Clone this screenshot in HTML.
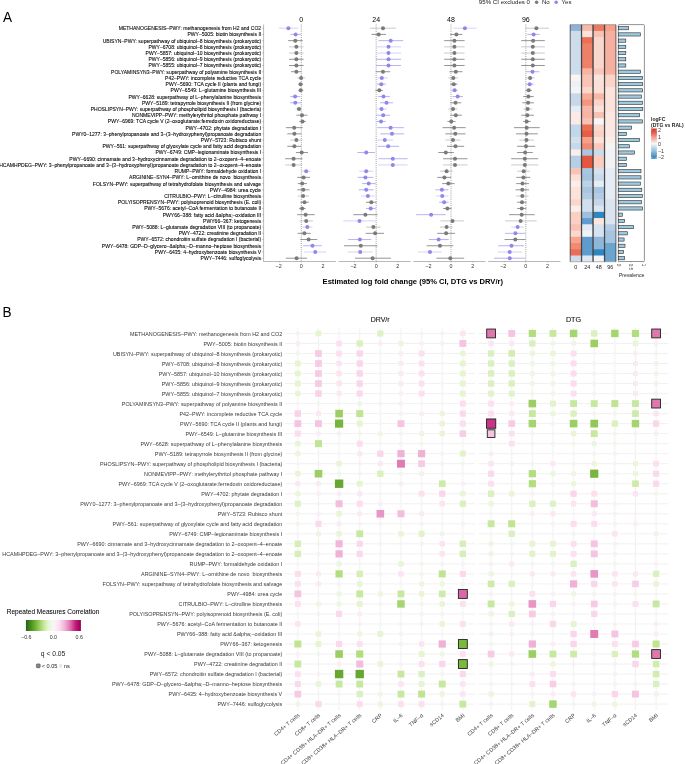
<!DOCTYPE html><html><head><meta charset="utf-8"><style>html,body{margin:0;padding:0;background:#fff;}svg{display:block;will-change:transform}text{font-family:"Liberation Sans", sans-serif;white-space:pre}</style></head><body>
<svg width="685" height="764" viewBox="0 0 685 764">
<rect width="685" height="764" fill="#fff"/>
<text transform="translate(3,22.2) scale(1,1.09)" font-size="13.6" fill="#000">A</text>
<text transform="translate(2.6,317) scale(1,1.05)" font-size="13.6" fill="#000">B</text>
<g font-size="5.05" fill="#000" stroke="#000" stroke-width="0.08" text-anchor="end">
<text x="261.2" y="30.15">METHANOGENESIS–PWY: methanogenesis from H2 and CO2</text>
<text x="261.2" y="36.37">PWY–5005: biotin biosynthesis II</text>
<text x="261.2" y="42.58">UBISYN–PWY: superpathway of ubiquinol–8 biosynthesis (prokaryotic)</text>
<text x="261.2" y="48.80">PWY–6708: ubiquinol–8 biosynthesis (prokaryotic)</text>
<text x="261.2" y="55.01">PWY–5857: ubiquinol–10 biosynthesis (prokaryotic)</text>
<text x="261.2" y="61.23">PWY–5856: ubiquinol–9 biosynthesis (prokaryotic)</text>
<text x="261.2" y="67.45">PWY–5855: ubiquinol–7 biosynthesis (prokaryotic)</text>
<text x="261.2" y="73.66">POLYAMINSYN3–PWY: superpathway of polyamine biosynthesis II</text>
<text x="261.2" y="79.88">P42–PWY: incomplete reductive TCA cycle</text>
<text x="261.2" y="86.09">PWY–5690: TCA cycle II (plants and fungi)</text>
<text x="261.2" y="92.31">PWY–6549: L–glutamine biosynthesis III</text>
<text x="261.2" y="98.53">PWY–6628: superpathway of L–phenylalanine biosynthesis</text>
<text x="261.2" y="104.74">PWY–5189: tetrapyrrole biosynthesis II (from glycine)</text>
<text x="261.2" y="110.96">PHOSLIPSYN–PWY: superpathway of phospholipid biosynthesis I (bacteria)</text>
<text x="261.2" y="117.17">NONMEVIPP–PWY: methylerythritol phosphate pathway I</text>
<text x="261.2" y="123.39">PWY–6969: TCA cycle V (2–oxoglutarate:ferredoxin oxidoreductase)</text>
<text x="261.2" y="129.61">PWY–4702: phytate degradation I</text>
<text x="261.2" y="135.82">PWY0–1277: 3–phenylpropanoate and 3–(3–hydroxyphenyl)propanoate degradation</text>
<text x="261.2" y="142.04">PWY–5723: Rubisco shunt</text>
<text x="261.2" y="148.25">PWY–561: superpathway of glyoxylate cycle and fatty acid degradation</text>
<text x="261.2" y="154.47">PWY–6749: CMP–legionaminate biosynthesis I</text>
<text x="261.2" y="160.69">PWY–6690: cinnamate and 3–hydroxycinnamate degradation to 2–oxopent–4–enoate</text>
<text x="261.2" y="166.90">HCAMHPDEG–PWY: 3–phenylpropanoate and 3–(3–hydroxyphenyl)propanoate degradation to 2–oxopent–4–enoate</text>
<text x="261.2" y="173.12">RUMP–PWY: formaldehyde oxidation I</text>
<text x="261.2" y="179.33">ARGININE–SYN4–PWY: L–ornithine de novo  biosynthesis</text>
<text x="261.2" y="185.55">FOLSYN–PWY: superpathway of tetrahydrofolate biosynthesis and salvage</text>
<text x="261.2" y="191.77">PWY–4984: urea cycle</text>
<text x="261.2" y="197.98">CITRULBIO–PWY: L–citrulline biosynthesis</text>
<text x="261.2" y="204.20">POLYISOPRENSYN–PWY: polyisoprenoid biosynthesis (E. coli)</text>
<text x="261.2" y="210.41">PWY–5676: acetyl–CoA fermentation to butanoate II</text>
<text x="261.2" y="216.63">PWY66–388: fatty acid &amp;alpha;–oxidation III</text>
<text x="261.2" y="222.85">PWY66–367: ketogenesis</text>
<text x="261.2" y="229.06">PWY–5088: L–glutamate degradation VIII (to propanoate)</text>
<text x="261.2" y="235.28">PWY–4722: creatinine degradation II</text>
<text x="261.2" y="241.49">PWY–6572: chondroitin sulfate degradation I (bacterial)</text>
<text x="261.2" y="247.71">PWY–6478: GDP–D–glycero–&amp;alpha;–D–manno–heptose biosynthesis</text>
<text x="261.2" y="253.93">PWY–6435: 4–hydroxybenzoate biosynthesis V</text>
<text x="261.2" y="260.14">PWY–7446: sulfoglycolysis</text>
</g>
<g stroke="#8c8c8c" stroke-width="0.6">
<line x1="263.6" y1="24.6" x2="263.6" y2="261.8"/>
<line x1="262.4" y1="28.20" x2="263.6" y2="28.20"/>
<line x1="262.4" y1="34.42" x2="263.6" y2="34.42"/>
<line x1="262.4" y1="40.63" x2="263.6" y2="40.63"/>
<line x1="262.4" y1="46.85" x2="263.6" y2="46.85"/>
<line x1="262.4" y1="53.06" x2="263.6" y2="53.06"/>
<line x1="262.4" y1="59.28" x2="263.6" y2="59.28"/>
<line x1="262.4" y1="65.50" x2="263.6" y2="65.50"/>
<line x1="262.4" y1="71.71" x2="263.6" y2="71.71"/>
<line x1="262.4" y1="77.93" x2="263.6" y2="77.93"/>
<line x1="262.4" y1="84.14" x2="263.6" y2="84.14"/>
<line x1="262.4" y1="90.36" x2="263.6" y2="90.36"/>
<line x1="262.4" y1="96.58" x2="263.6" y2="96.58"/>
<line x1="262.4" y1="102.79" x2="263.6" y2="102.79"/>
<line x1="262.4" y1="109.01" x2="263.6" y2="109.01"/>
<line x1="262.4" y1="115.22" x2="263.6" y2="115.22"/>
<line x1="262.4" y1="121.44" x2="263.6" y2="121.44"/>
<line x1="262.4" y1="127.66" x2="263.6" y2="127.66"/>
<line x1="262.4" y1="133.87" x2="263.6" y2="133.87"/>
<line x1="262.4" y1="140.09" x2="263.6" y2="140.09"/>
<line x1="262.4" y1="146.30" x2="263.6" y2="146.30"/>
<line x1="262.4" y1="152.52" x2="263.6" y2="152.52"/>
<line x1="262.4" y1="158.74" x2="263.6" y2="158.74"/>
<line x1="262.4" y1="164.95" x2="263.6" y2="164.95"/>
<line x1="262.4" y1="171.17" x2="263.6" y2="171.17"/>
<line x1="262.4" y1="177.38" x2="263.6" y2="177.38"/>
<line x1="262.4" y1="183.60" x2="263.6" y2="183.60"/>
<line x1="262.4" y1="189.82" x2="263.6" y2="189.82"/>
<line x1="262.4" y1="196.03" x2="263.6" y2="196.03"/>
<line x1="262.4" y1="202.25" x2="263.6" y2="202.25"/>
<line x1="262.4" y1="208.46" x2="263.6" y2="208.46"/>
<line x1="262.4" y1="214.68" x2="263.6" y2="214.68"/>
<line x1="262.4" y1="220.90" x2="263.6" y2="220.90"/>
<line x1="262.4" y1="227.11" x2="263.6" y2="227.11"/>
<line x1="262.4" y1="233.33" x2="263.6" y2="233.33"/>
<line x1="262.4" y1="239.54" x2="263.6" y2="239.54"/>
<line x1="262.4" y1="245.76" x2="263.6" y2="245.76"/>
<line x1="262.4" y1="251.98" x2="263.6" y2="251.98"/>
<line x1="262.4" y1="258.19" x2="263.6" y2="258.19"/>
</g>
<line x1="263.60" y1="261.50" x2="335.90" y2="261.50" stroke="#8c8c8c" stroke-width="0.6"/>
<line x1="279.60" y1="261.50" x2="279.60" y2="262.60" stroke="#8c8c8c" stroke-width="0.5"/>
<text x="278.70" y="267.70" font-size="5.4" fill="#333" text-anchor="middle">−2</text>
<line x1="301.30" y1="261.50" x2="301.30" y2="262.60" stroke="#8c8c8c" stroke-width="0.5"/>
<text x="301.30" y="267.70" font-size="5.4" fill="#333" text-anchor="middle">0</text>
<line x1="323.00" y1="261.50" x2="323.00" y2="262.60" stroke="#8c8c8c" stroke-width="0.5"/>
<text x="323.00" y="267.70" font-size="5.4" fill="#333" text-anchor="middle">2</text>
<line x1="301.30" y1="24.60" x2="301.30" y2="261.50" stroke="#3a3a3a" stroke-width="0.6" stroke-dasharray="0.8 1.3"/>
<text x="301.30" y="21.7" font-size="7.0" fill="#000" text-anchor="middle">0</text>
<line x1="278.90" y1="28.20" x2="298.10" y2="28.20" stroke="#cbc6f5" stroke-width="0.8"/>
<circle cx="288.40" cy="28.20" r="2.0" fill="#8f87e9"/>
<line x1="290.60" y1="34.42" x2="300.80" y2="34.42" stroke="#a69ef0" stroke-width="0.8"/>
<circle cx="295.60" cy="34.42" r="2.0" fill="#8f87e9"/>
<line x1="288.10" y1="40.63" x2="302.80" y2="40.63" stroke="#7a7a7a" stroke-width="0.8"/>
<circle cx="295.30" cy="40.63" r="2.0" fill="#7a7a7a"/>
<line x1="289.00" y1="46.85" x2="303.60" y2="46.85" stroke="#bdbdbd" stroke-width="0.8"/>
<circle cx="296.40" cy="46.85" r="2.0" fill="#7a7a7a"/>
<line x1="289.00" y1="53.06" x2="303.60" y2="53.06" stroke="#bdbdbd" stroke-width="0.8"/>
<circle cx="296.40" cy="53.06" r="2.0" fill="#7a7a7a"/>
<line x1="289.00" y1="59.28" x2="303.60" y2="59.28" stroke="#7a7a7a" stroke-width="0.8"/>
<circle cx="296.40" cy="59.28" r="2.0" fill="#7a7a7a"/>
<line x1="289.00" y1="65.50" x2="303.60" y2="65.50" stroke="#7a7a7a" stroke-width="0.8"/>
<circle cx="296.40" cy="65.50" r="2.0" fill="#7a7a7a"/>
<line x1="291.10" y1="71.71" x2="301.40" y2="71.71" stroke="#7a7a7a" stroke-width="0.8"/>
<circle cx="296.40" cy="71.71" r="2.0" fill="#7a7a7a"/>
<line x1="297.30" y1="77.93" x2="305.30" y2="77.93" stroke="#bdbdbd" stroke-width="0.8"/>
<circle cx="301.10" cy="77.93" r="2.0" fill="#7a7a7a"/>
<line x1="299.00" y1="84.14" x2="303.00" y2="84.14" stroke="#7a7a7a" stroke-width="0.8"/>
<circle cx="300.50" cy="84.14" r="2.0" fill="#7a7a7a"/>
<line x1="298.40" y1="90.36" x2="303.30" y2="90.36" stroke="#7a7a7a" stroke-width="0.8"/>
<circle cx="300.70" cy="90.36" r="2.0" fill="#7a7a7a"/>
<line x1="290.30" y1="96.58" x2="300.00" y2="96.58" stroke="#a69ef0" stroke-width="0.8"/>
<circle cx="295.10" cy="96.58" r="2.0" fill="#8f87e9"/>
<line x1="290.00" y1="102.79" x2="301.00" y2="102.79" stroke="#a69ef0" stroke-width="0.8"/>
<circle cx="295.30" cy="102.79" r="2.0" fill="#8f87e9"/>
<line x1="295.60" y1="109.01" x2="301.40" y2="109.01" stroke="#bdbdbd" stroke-width="0.8"/>
<circle cx="299.00" cy="109.01" r="2.0" fill="#7a7a7a"/>
<line x1="296.40" y1="115.22" x2="307.50" y2="115.22" stroke="#7a7a7a" stroke-width="0.8"/>
<circle cx="302.00" cy="115.22" r="2.0" fill="#7a7a7a"/>
<line x1="299.20" y1="121.44" x2="305.80" y2="121.44" stroke="#7a7a7a" stroke-width="0.8"/>
<circle cx="302.50" cy="121.44" r="2.0" fill="#7a7a7a"/>
<line x1="285.90" y1="127.66" x2="302.80" y2="127.66" stroke="#7a7a7a" stroke-width="0.8"/>
<circle cx="294.20" cy="127.66" r="2.0" fill="#7a7a7a"/>
<line x1="287.30" y1="133.87" x2="301.40" y2="133.87" stroke="#7a7a7a" stroke-width="0.8"/>
<circle cx="294.40" cy="133.87" r="2.0" fill="#7a7a7a"/>
<line x1="290.00" y1="140.09" x2="302.80" y2="140.09" stroke="#bdbdbd" stroke-width="0.8"/>
<circle cx="296.40" cy="140.09" r="2.0" fill="#7a7a7a"/>
<line x1="287.30" y1="146.30" x2="301.40" y2="146.30" stroke="#7a7a7a" stroke-width="0.8"/>
<circle cx="294.40" cy="146.30" r="2.0" fill="#7a7a7a"/>
<line x1="295.90" y1="152.52" x2="308.00" y2="152.52" stroke="#7a7a7a" stroke-width="0.8"/>
<circle cx="301.70" cy="152.52" r="2.0" fill="#7a7a7a"/>
<line x1="285.10" y1="158.74" x2="302.50" y2="158.74" stroke="#7a7a7a" stroke-width="0.8"/>
<circle cx="293.60" cy="158.74" r="2.0" fill="#7a7a7a"/>
<line x1="285.10" y1="164.95" x2="302.20" y2="164.95" stroke="#bdbdbd" stroke-width="0.8"/>
<circle cx="293.60" cy="164.95" r="2.0" fill="#7a7a7a"/>
<line x1="301.40" y1="171.17" x2="310.80" y2="171.17" stroke="#cbc6f5" stroke-width="0.8"/>
<circle cx="306.20" cy="171.17" r="2.0" fill="#8f87e9"/>
<line x1="297.30" y1="177.38" x2="310.00" y2="177.38" stroke="#7a7a7a" stroke-width="0.8"/>
<circle cx="303.60" cy="177.38" r="2.0" fill="#7a7a7a"/>
<line x1="297.70" y1="183.60" x2="307.00" y2="183.60" stroke="#7a7a7a" stroke-width="0.8"/>
<circle cx="302.20" cy="183.60" r="2.0" fill="#7a7a7a"/>
<line x1="297.30" y1="189.82" x2="309.50" y2="189.82" stroke="#7a7a7a" stroke-width="0.8"/>
<circle cx="303.30" cy="189.82" r="2.0" fill="#7a7a7a"/>
<line x1="297.70" y1="196.03" x2="309.20" y2="196.03" stroke="#bdbdbd" stroke-width="0.8"/>
<circle cx="303.10" cy="196.03" r="2.0" fill="#7a7a7a"/>
<line x1="300.30" y1="202.25" x2="308.80" y2="202.25" stroke="#7a7a7a" stroke-width="0.8"/>
<circle cx="304.50" cy="202.25" r="2.0" fill="#7a7a7a"/>
<line x1="299.20" y1="208.46" x2="305.60" y2="208.46" stroke="#7a7a7a" stroke-width="0.8"/>
<circle cx="302.20" cy="208.46" r="2.0" fill="#7a7a7a"/>
<line x1="297.00" y1="214.68" x2="314.70" y2="214.68" stroke="#7a7a7a" stroke-width="0.8"/>
<circle cx="305.60" cy="214.68" r="2.0" fill="#7a7a7a"/>
<line x1="299.50" y1="220.90" x2="313.00" y2="220.90" stroke="#bdbdbd" stroke-width="0.8"/>
<circle cx="306.20" cy="220.90" r="2.0" fill="#7a7a7a"/>
<line x1="302.20" y1="227.11" x2="312.50" y2="227.11" stroke="#cbc6f5" stroke-width="0.8"/>
<circle cx="307.30" cy="227.11" r="2.0" fill="#8f87e9"/>
<line x1="297.50" y1="233.33" x2="310.80" y2="233.33" stroke="#7a7a7a" stroke-width="0.8"/>
<circle cx="304.40" cy="233.33" r="2.0" fill="#7a7a7a"/>
<line x1="300.30" y1="239.54" x2="317.20" y2="239.54" stroke="#7a7a7a" stroke-width="0.8"/>
<circle cx="308.60" cy="239.54" r="2.0" fill="#7a7a7a"/>
<line x1="303.10" y1="245.76" x2="322.00" y2="245.76" stroke="#a69ef0" stroke-width="0.8"/>
<circle cx="312.50" cy="245.76" r="2.0" fill="#8f87e9"/>
<line x1="304.20" y1="251.98" x2="326.20" y2="251.98" stroke="#cbc6f5" stroke-width="0.8"/>
<circle cx="315.30" cy="251.98" r="2.0" fill="#8f87e9"/>
<line x1="285.90" y1="258.19" x2="307.00" y2="258.19" stroke="#7a7a7a" stroke-width="0.8"/>
<circle cx="296.60" cy="258.19" r="2.0" fill="#7a7a7a"/>
<line x1="338.45" y1="261.50" x2="410.75" y2="261.50" stroke="#8c8c8c" stroke-width="0.6"/>
<line x1="354.45" y1="261.50" x2="354.45" y2="262.60" stroke="#8c8c8c" stroke-width="0.5"/>
<text x="353.55" y="267.70" font-size="5.4" fill="#333" text-anchor="middle">−2</text>
<line x1="376.15" y1="261.50" x2="376.15" y2="262.60" stroke="#8c8c8c" stroke-width="0.5"/>
<text x="376.15" y="267.70" font-size="5.4" fill="#333" text-anchor="middle">0</text>
<line x1="397.85" y1="261.50" x2="397.85" y2="262.60" stroke="#8c8c8c" stroke-width="0.5"/>
<text x="397.85" y="267.70" font-size="5.4" fill="#333" text-anchor="middle">2</text>
<line x1="376.15" y1="24.60" x2="376.15" y2="261.50" stroke="#3a3a3a" stroke-width="0.6" stroke-dasharray="0.8 1.3"/>
<text x="376.15" y="21.7" font-size="7.0" fill="#000" text-anchor="middle">24</text>
<line x1="369.90" y1="28.20" x2="395.90" y2="28.20" stroke="#bdbdbd" stroke-width="0.8"/>
<circle cx="383.00" cy="28.20" r="2.0" fill="#7a7a7a"/>
<line x1="371.50" y1="34.42" x2="386.00" y2="34.42" stroke="#7a7a7a" stroke-width="0.8"/>
<circle cx="378.70" cy="34.42" r="2.0" fill="#7a7a7a"/>
<line x1="378.50" y1="40.63" x2="403.10" y2="40.63" stroke="#a69ef0" stroke-width="0.8"/>
<circle cx="390.70" cy="40.63" r="2.0" fill="#8f87e9"/>
<line x1="376.50" y1="46.85" x2="401.00" y2="46.85" stroke="#cbc6f5" stroke-width="0.8"/>
<circle cx="388.50" cy="46.85" r="2.0" fill="#8f87e9"/>
<line x1="376.50" y1="53.06" x2="401.00" y2="53.06" stroke="#cbc6f5" stroke-width="0.8"/>
<circle cx="388.50" cy="53.06" r="2.0" fill="#8f87e9"/>
<line x1="376.00" y1="59.28" x2="401.00" y2="59.28" stroke="#a69ef0" stroke-width="0.8"/>
<circle cx="388.50" cy="59.28" r="2.0" fill="#8f87e9"/>
<line x1="376.00" y1="65.50" x2="401.00" y2="65.50" stroke="#a69ef0" stroke-width="0.8"/>
<circle cx="388.50" cy="65.50" r="2.0" fill="#8f87e9"/>
<line x1="375.70" y1="71.71" x2="390.20" y2="71.71" stroke="#7a7a7a" stroke-width="0.8"/>
<circle cx="383.00" cy="71.71" r="2.0" fill="#7a7a7a"/>
<line x1="376.50" y1="77.93" x2="387.60" y2="77.93" stroke="#cbc6f5" stroke-width="0.8"/>
<circle cx="381.80" cy="77.93" r="2.0" fill="#8f87e9"/>
<line x1="377.00" y1="84.14" x2="386.00" y2="84.14" stroke="#a69ef0" stroke-width="0.8"/>
<circle cx="381.30" cy="84.14" r="2.0" fill="#8f87e9"/>
<line x1="375.40" y1="90.36" x2="383.00" y2="90.36" stroke="#7a7a7a" stroke-width="0.8"/>
<circle cx="379.30" cy="90.36" r="2.0" fill="#7a7a7a"/>
<line x1="378.00" y1="96.58" x2="389.80" y2="96.58" stroke="#a69ef0" stroke-width="0.8"/>
<circle cx="383.50" cy="96.58" r="2.0" fill="#8f87e9"/>
<line x1="380.20" y1="102.79" x2="393.20" y2="102.79" stroke="#a69ef0" stroke-width="0.8"/>
<circle cx="386.50" cy="102.79" r="2.0" fill="#8f87e9"/>
<line x1="376.50" y1="109.01" x2="386.80" y2="109.01" stroke="#cbc6f5" stroke-width="0.8"/>
<circle cx="381.50" cy="109.01" r="2.0" fill="#8f87e9"/>
<line x1="376.00" y1="115.22" x2="390.20" y2="115.22" stroke="#a69ef0" stroke-width="0.8"/>
<circle cx="383.20" cy="115.22" r="2.0" fill="#8f87e9"/>
<line x1="376.80" y1="121.44" x2="385.70" y2="121.44" stroke="#a69ef0" stroke-width="0.8"/>
<circle cx="381.00" cy="121.44" r="2.0" fill="#8f87e9"/>
<line x1="377.30" y1="127.66" x2="403.90" y2="127.66" stroke="#a69ef0" stroke-width="0.8"/>
<circle cx="390.60" cy="127.66" r="2.0" fill="#8f87e9"/>
<line x1="380.20" y1="133.87" x2="403.90" y2="133.87" stroke="#a69ef0" stroke-width="0.8"/>
<circle cx="392.00" cy="133.87" r="2.0" fill="#8f87e9"/>
<line x1="376.00" y1="140.09" x2="393.20" y2="140.09" stroke="#cbc6f5" stroke-width="0.8"/>
<circle cx="384.80" cy="140.09" r="2.0" fill="#8f87e9"/>
<line x1="377.60" y1="146.30" x2="399.00" y2="146.30" stroke="#a69ef0" stroke-width="0.8"/>
<circle cx="388.20" cy="146.30" r="2.0" fill="#8f87e9"/>
<line x1="357.30" y1="152.52" x2="375.00" y2="152.52" stroke="#a69ef0" stroke-width="0.8"/>
<circle cx="366.20" cy="152.52" r="2.0" fill="#8f87e9"/>
<line x1="378.50" y1="158.74" x2="407.60" y2="158.74" stroke="#a69ef0" stroke-width="0.8"/>
<circle cx="392.80" cy="158.74" r="2.0" fill="#8f87e9"/>
<line x1="378.50" y1="164.95" x2="407.60" y2="164.95" stroke="#cbc6f5" stroke-width="0.8"/>
<circle cx="392.80" cy="164.95" r="2.0" fill="#8f87e9"/>
<line x1="359.10" y1="171.17" x2="373.50" y2="171.17" stroke="#cbc6f5" stroke-width="0.8"/>
<circle cx="366.20" cy="171.17" r="2.0" fill="#8f87e9"/>
<line x1="357.60" y1="177.38" x2="373.50" y2="177.38" stroke="#a69ef0" stroke-width="0.8"/>
<circle cx="365.40" cy="177.38" r="2.0" fill="#8f87e9"/>
<line x1="362.10" y1="183.60" x2="375.70" y2="183.60" stroke="#a69ef0" stroke-width="0.8"/>
<circle cx="368.70" cy="183.60" r="2.0" fill="#8f87e9"/>
<line x1="358.80" y1="189.82" x2="373.70" y2="189.82" stroke="#a69ef0" stroke-width="0.8"/>
<circle cx="366.20" cy="189.82" r="2.0" fill="#8f87e9"/>
<line x1="361.00" y1="196.03" x2="374.80" y2="196.03" stroke="#cbc6f5" stroke-width="0.8"/>
<circle cx="367.90" cy="196.03" r="2.0" fill="#8f87e9"/>
<line x1="366.00" y1="202.25" x2="376.50" y2="202.25" stroke="#7a7a7a" stroke-width="0.8"/>
<circle cx="371.30" cy="202.25" r="2.0" fill="#7a7a7a"/>
<line x1="366.00" y1="208.46" x2="375.70" y2="208.46" stroke="#a69ef0" stroke-width="0.8"/>
<circle cx="370.70" cy="208.46" r="2.0" fill="#8f87e9"/>
<line x1="353.20" y1="214.68" x2="377.60" y2="214.68" stroke="#7a7a7a" stroke-width="0.8"/>
<circle cx="365.40" cy="214.68" r="2.0" fill="#7a7a7a"/>
<line x1="343.20" y1="220.90" x2="375.70" y2="220.90" stroke="#cbc6f5" stroke-width="0.8"/>
<circle cx="359.50" cy="220.90" r="2.0" fill="#8f87e9"/>
<line x1="366.00" y1="227.11" x2="380.60" y2="227.11" stroke="#bdbdbd" stroke-width="0.8"/>
<circle cx="373.40" cy="227.11" r="2.0" fill="#7a7a7a"/>
<line x1="365.70" y1="233.33" x2="384.00" y2="233.33" stroke="#7a7a7a" stroke-width="0.8"/>
<circle cx="375.10" cy="233.33" r="2.0" fill="#7a7a7a"/>
<line x1="348.20" y1="239.54" x2="371.30" y2="239.54" stroke="#a69ef0" stroke-width="0.8"/>
<circle cx="359.90" cy="239.54" r="2.0" fill="#8f87e9"/>
<line x1="344.00" y1="245.76" x2="377.60" y2="245.76" stroke="#7a7a7a" stroke-width="0.8"/>
<circle cx="360.80" cy="245.76" r="2.0" fill="#7a7a7a"/>
<line x1="347.70" y1="251.98" x2="372.60" y2="251.98" stroke="#cbc6f5" stroke-width="0.8"/>
<circle cx="360.20" cy="251.98" r="2.0" fill="#8f87e9"/>
<line x1="355.10" y1="258.19" x2="390.90" y2="258.19" stroke="#7a7a7a" stroke-width="0.8"/>
<circle cx="372.60" cy="258.19" r="2.0" fill="#7a7a7a"/>
<line x1="413.30" y1="261.50" x2="485.60" y2="261.50" stroke="#8c8c8c" stroke-width="0.6"/>
<line x1="429.30" y1="261.50" x2="429.30" y2="262.60" stroke="#8c8c8c" stroke-width="0.5"/>
<text x="428.40" y="267.70" font-size="5.4" fill="#333" text-anchor="middle">−2</text>
<line x1="451.00" y1="261.50" x2="451.00" y2="262.60" stroke="#8c8c8c" stroke-width="0.5"/>
<text x="451.00" y="267.70" font-size="5.4" fill="#333" text-anchor="middle">0</text>
<line x1="472.70" y1="261.50" x2="472.70" y2="262.60" stroke="#8c8c8c" stroke-width="0.5"/>
<text x="472.70" y="267.70" font-size="5.4" fill="#333" text-anchor="middle">2</text>
<line x1="451.00" y1="24.60" x2="451.00" y2="261.50" stroke="#3a3a3a" stroke-width="0.6" stroke-dasharray="0.8 1.3"/>
<text x="451.00" y="21.7" font-size="7.0" fill="#000" text-anchor="middle">48</text>
<line x1="453.30" y1="28.20" x2="476.80" y2="28.20" stroke="#cbc6f5" stroke-width="0.8"/>
<circle cx="464.90" cy="28.20" r="2.0" fill="#8f87e9"/>
<line x1="450.20" y1="34.42" x2="462.40" y2="34.42" stroke="#7a7a7a" stroke-width="0.8"/>
<circle cx="456.40" cy="34.42" r="2.0" fill="#7a7a7a"/>
<line x1="444.20" y1="40.63" x2="464.60" y2="40.63" stroke="#7a7a7a" stroke-width="0.8"/>
<circle cx="454.40" cy="40.63" r="2.0" fill="#7a7a7a"/>
<line x1="444.20" y1="46.85" x2="464.60" y2="46.85" stroke="#bdbdbd" stroke-width="0.8"/>
<circle cx="454.40" cy="46.85" r="2.0" fill="#7a7a7a"/>
<line x1="444.20" y1="53.06" x2="464.60" y2="53.06" stroke="#bdbdbd" stroke-width="0.8"/>
<circle cx="454.40" cy="53.06" r="2.0" fill="#7a7a7a"/>
<line x1="444.20" y1="59.28" x2="464.60" y2="59.28" stroke="#7a7a7a" stroke-width="0.8"/>
<circle cx="454.40" cy="59.28" r="2.0" fill="#7a7a7a"/>
<line x1="444.20" y1="65.50" x2="464.60" y2="65.50" stroke="#7a7a7a" stroke-width="0.8"/>
<circle cx="454.40" cy="65.50" r="2.0" fill="#7a7a7a"/>
<line x1="449.40" y1="71.71" x2="462.40" y2="71.71" stroke="#7a7a7a" stroke-width="0.8"/>
<circle cx="455.80" cy="71.71" r="2.0" fill="#7a7a7a"/>
<line x1="448.30" y1="77.93" x2="458.00" y2="77.93" stroke="#bdbdbd" stroke-width="0.8"/>
<circle cx="453.30" cy="77.93" r="2.0" fill="#7a7a7a"/>
<line x1="450.20" y1="84.14" x2="457.50" y2="84.14" stroke="#7a7a7a" stroke-width="0.8"/>
<circle cx="453.80" cy="84.14" r="2.0" fill="#7a7a7a"/>
<line x1="451.60" y1="90.36" x2="457.50" y2="90.36" stroke="#a69ef0" stroke-width="0.8"/>
<circle cx="454.60" cy="90.36" r="2.0" fill="#8f87e9"/>
<line x1="452.50" y1="96.58" x2="463.00" y2="96.58" stroke="#a69ef0" stroke-width="0.8"/>
<circle cx="457.70" cy="96.58" r="2.0" fill="#8f87e9"/>
<line x1="450.20" y1="102.79" x2="461.30" y2="102.79" stroke="#7a7a7a" stroke-width="0.8"/>
<circle cx="455.50" cy="102.79" r="2.0" fill="#7a7a7a"/>
<line x1="448.30" y1="109.01" x2="457.50" y2="109.01" stroke="#bdbdbd" stroke-width="0.8"/>
<circle cx="453.00" cy="109.01" r="2.0" fill="#7a7a7a"/>
<line x1="450.20" y1="115.22" x2="461.90" y2="115.22" stroke="#7a7a7a" stroke-width="0.8"/>
<circle cx="455.80" cy="115.22" r="2.0" fill="#7a7a7a"/>
<line x1="447.50" y1="121.44" x2="455.50" y2="121.44" stroke="#7a7a7a" stroke-width="0.8"/>
<circle cx="451.30" cy="121.44" r="2.0" fill="#7a7a7a"/>
<line x1="442.50" y1="127.66" x2="465.70" y2="127.66" stroke="#7a7a7a" stroke-width="0.8"/>
<circle cx="454.10" cy="127.66" r="2.0" fill="#7a7a7a"/>
<line x1="445.30" y1="133.87" x2="465.50" y2="133.87" stroke="#7a7a7a" stroke-width="0.8"/>
<circle cx="455.30" cy="133.87" r="2.0" fill="#7a7a7a"/>
<line x1="445.30" y1="140.09" x2="460.50" y2="140.09" stroke="#bdbdbd" stroke-width="0.8"/>
<circle cx="453.00" cy="140.09" r="2.0" fill="#7a7a7a"/>
<line x1="447.00" y1="146.30" x2="464.20" y2="146.30" stroke="#7a7a7a" stroke-width="0.8"/>
<circle cx="455.50" cy="146.30" r="2.0" fill="#7a7a7a"/>
<line x1="438.30" y1="152.52" x2="453.80" y2="152.52" stroke="#7a7a7a" stroke-width="0.8"/>
<circle cx="445.80" cy="152.52" r="2.0" fill="#7a7a7a"/>
<line x1="443.10" y1="158.74" x2="467.50" y2="158.74" stroke="#7a7a7a" stroke-width="0.8"/>
<circle cx="455.00" cy="158.74" r="2.0" fill="#7a7a7a"/>
<line x1="443.10" y1="164.95" x2="467.50" y2="164.95" stroke="#bdbdbd" stroke-width="0.8"/>
<circle cx="455.00" cy="164.95" r="2.0" fill="#7a7a7a"/>
<line x1="440.00" y1="171.17" x2="452.70" y2="171.17" stroke="#bdbdbd" stroke-width="0.8"/>
<circle cx="446.60" cy="171.17" r="2.0" fill="#7a7a7a"/>
<line x1="437.20" y1="177.38" x2="451.10" y2="177.38" stroke="#7a7a7a" stroke-width="0.8"/>
<circle cx="444.40" cy="177.38" r="2.0" fill="#7a7a7a"/>
<line x1="442.20" y1="183.60" x2="454.60" y2="183.60" stroke="#7a7a7a" stroke-width="0.8"/>
<circle cx="448.30" cy="183.60" r="2.0" fill="#7a7a7a"/>
<line x1="435.30" y1="189.82" x2="448.30" y2="189.82" stroke="#a69ef0" stroke-width="0.8"/>
<circle cx="441.90" cy="189.82" r="2.0" fill="#8f87e9"/>
<line x1="436.10" y1="196.03" x2="448.30" y2="196.03" stroke="#cbc6f5" stroke-width="0.8"/>
<circle cx="442.20" cy="196.03" r="2.0" fill="#8f87e9"/>
<line x1="439.10" y1="202.25" x2="448.60" y2="202.25" stroke="#a69ef0" stroke-width="0.8"/>
<circle cx="444.10" cy="202.25" r="2.0" fill="#8f87e9"/>
<line x1="443.10" y1="208.46" x2="451.60" y2="208.46" stroke="#7a7a7a" stroke-width="0.8"/>
<circle cx="447.40" cy="208.46" r="2.0" fill="#7a7a7a"/>
<line x1="416.10" y1="214.68" x2="445.70" y2="214.68" stroke="#a69ef0" stroke-width="0.8"/>
<circle cx="431.10" cy="214.68" r="2.0" fill="#8f87e9"/>
<line x1="440.50" y1="220.90" x2="464.20" y2="220.90" stroke="#bdbdbd" stroke-width="0.8"/>
<circle cx="452.50" cy="220.90" r="2.0" fill="#7a7a7a"/>
<line x1="440.00" y1="227.11" x2="452.70" y2="227.11" stroke="#bdbdbd" stroke-width="0.8"/>
<circle cx="446.60" cy="227.11" r="2.0" fill="#7a7a7a"/>
<line x1="437.20" y1="233.33" x2="455.00" y2="233.33" stroke="#7a7a7a" stroke-width="0.8"/>
<circle cx="446.10" cy="233.33" r="2.0" fill="#7a7a7a"/>
<line x1="428.90" y1="239.54" x2="448.70" y2="239.54" stroke="#a69ef0" stroke-width="0.8"/>
<circle cx="438.60" cy="239.54" r="2.0" fill="#8f87e9"/>
<line x1="426.60" y1="245.76" x2="453.30" y2="245.76" stroke="#7a7a7a" stroke-width="0.8"/>
<circle cx="440.00" cy="245.76" r="2.0" fill="#7a7a7a"/>
<line x1="418.00" y1="251.98" x2="442.00" y2="251.98" stroke="#cbc6f5" stroke-width="0.8"/>
<circle cx="430.00" cy="251.98" r="2.0" fill="#8f87e9"/>
<line x1="436.40" y1="258.19" x2="464.20" y2="258.19" stroke="#7a7a7a" stroke-width="0.8"/>
<circle cx="450.30" cy="258.19" r="2.0" fill="#7a7a7a"/>
<line x1="488.15" y1="261.50" x2="560.45" y2="261.50" stroke="#8c8c8c" stroke-width="0.6"/>
<line x1="504.15" y1="261.50" x2="504.15" y2="262.60" stroke="#8c8c8c" stroke-width="0.5"/>
<text x="503.25" y="267.70" font-size="5.4" fill="#333" text-anchor="middle">−2</text>
<line x1="525.85" y1="261.50" x2="525.85" y2="262.60" stroke="#8c8c8c" stroke-width="0.5"/>
<text x="525.85" y="267.70" font-size="5.4" fill="#333" text-anchor="middle">0</text>
<line x1="547.55" y1="261.50" x2="547.55" y2="262.60" stroke="#8c8c8c" stroke-width="0.5"/>
<text x="547.55" y="267.70" font-size="5.4" fill="#333" text-anchor="middle">2</text>
<line x1="525.85" y1="24.60" x2="525.85" y2="261.50" stroke="#3a3a3a" stroke-width="0.6" stroke-dasharray="0.8 1.3"/>
<text x="525.85" y="21.7" font-size="7.0" fill="#000" text-anchor="middle">96</text>
<line x1="525.10" y1="28.20" x2="548.90" y2="28.20" stroke="#bdbdbd" stroke-width="0.8"/>
<circle cx="536.40" cy="28.20" r="2.0" fill="#7a7a7a"/>
<line x1="527.30" y1="34.42" x2="539.70" y2="34.42" stroke="#a69ef0" stroke-width="0.8"/>
<circle cx="533.60" cy="34.42" r="2.0" fill="#8f87e9"/>
<line x1="521.20" y1="40.63" x2="544.80" y2="40.63" stroke="#7a7a7a" stroke-width="0.8"/>
<circle cx="533.10" cy="40.63" r="2.0" fill="#7a7a7a"/>
<line x1="521.20" y1="46.85" x2="544.80" y2="46.85" stroke="#bdbdbd" stroke-width="0.8"/>
<circle cx="532.80" cy="46.85" r="2.0" fill="#7a7a7a"/>
<line x1="521.20" y1="53.06" x2="544.80" y2="53.06" stroke="#bdbdbd" stroke-width="0.8"/>
<circle cx="532.80" cy="53.06" r="2.0" fill="#7a7a7a"/>
<line x1="521.20" y1="59.28" x2="544.80" y2="59.28" stroke="#7a7a7a" stroke-width="0.8"/>
<circle cx="532.80" cy="59.28" r="2.0" fill="#7a7a7a"/>
<line x1="521.20" y1="65.50" x2="544.80" y2="65.50" stroke="#7a7a7a" stroke-width="0.8"/>
<circle cx="532.80" cy="65.50" r="2.0" fill="#7a7a7a"/>
<line x1="526.00" y1="71.71" x2="539.30" y2="71.71" stroke="#a69ef0" stroke-width="0.8"/>
<circle cx="532.50" cy="71.71" r="2.0" fill="#8f87e9"/>
<line x1="525.60" y1="77.93" x2="534.80" y2="77.93" stroke="#bdbdbd" stroke-width="0.8"/>
<circle cx="530.10" cy="77.93" r="2.0" fill="#7a7a7a"/>
<line x1="526.00" y1="84.14" x2="533.70" y2="84.14" stroke="#a69ef0" stroke-width="0.8"/>
<circle cx="529.70" cy="84.14" r="2.0" fill="#8f87e9"/>
<line x1="525.60" y1="90.36" x2="531.90" y2="90.36" stroke="#7a7a7a" stroke-width="0.8"/>
<circle cx="528.70" cy="90.36" r="2.0" fill="#7a7a7a"/>
<line x1="523.10" y1="96.58" x2="533.70" y2="96.58" stroke="#7a7a7a" stroke-width="0.8"/>
<circle cx="528.40" cy="96.58" r="2.0" fill="#7a7a7a"/>
<line x1="522.30" y1="102.79" x2="533.90" y2="102.79" stroke="#7a7a7a" stroke-width="0.8"/>
<circle cx="528.10" cy="102.79" r="2.0" fill="#7a7a7a"/>
<line x1="523.40" y1="109.01" x2="532.30" y2="109.01" stroke="#bdbdbd" stroke-width="0.8"/>
<circle cx="527.60" cy="109.01" r="2.0" fill="#7a7a7a"/>
<line x1="521.20" y1="115.22" x2="533.90" y2="115.22" stroke="#7a7a7a" stroke-width="0.8"/>
<circle cx="527.30" cy="115.22" r="2.0" fill="#7a7a7a"/>
<line x1="523.10" y1="121.44" x2="530.80" y2="121.44" stroke="#7a7a7a" stroke-width="0.8"/>
<circle cx="526.70" cy="121.44" r="2.0" fill="#7a7a7a"/>
<line x1="514.00" y1="127.66" x2="539.80" y2="127.66" stroke="#7a7a7a" stroke-width="0.8"/>
<circle cx="526.70" cy="127.66" r="2.0" fill="#7a7a7a"/>
<line x1="516.00" y1="133.87" x2="537.80" y2="133.87" stroke="#7a7a7a" stroke-width="0.8"/>
<circle cx="526.50" cy="133.87" r="2.0" fill="#7a7a7a"/>
<line x1="519.30" y1="140.09" x2="533.90" y2="140.09" stroke="#bdbdbd" stroke-width="0.8"/>
<circle cx="526.50" cy="140.09" r="2.0" fill="#7a7a7a"/>
<line x1="517.10" y1="146.30" x2="535.10" y2="146.30" stroke="#7a7a7a" stroke-width="0.8"/>
<circle cx="526.00" cy="146.30" r="2.0" fill="#7a7a7a"/>
<line x1="517.10" y1="152.52" x2="532.80" y2="152.52" stroke="#7a7a7a" stroke-width="0.8"/>
<circle cx="525.10" cy="152.52" r="2.0" fill="#7a7a7a"/>
<line x1="511.20" y1="158.74" x2="538.20" y2="158.74" stroke="#7a7a7a" stroke-width="0.8"/>
<circle cx="524.80" cy="158.74" r="2.0" fill="#7a7a7a"/>
<line x1="511.20" y1="164.95" x2="538.20" y2="164.95" stroke="#bdbdbd" stroke-width="0.8"/>
<circle cx="524.80" cy="164.95" r="2.0" fill="#7a7a7a"/>
<line x1="517.10" y1="171.17" x2="530.10" y2="171.17" stroke="#bdbdbd" stroke-width="0.8"/>
<circle cx="523.70" cy="171.17" r="2.0" fill="#7a7a7a"/>
<line x1="516.40" y1="177.38" x2="530.40" y2="177.38" stroke="#7a7a7a" stroke-width="0.8"/>
<circle cx="523.40" cy="177.38" r="2.0" fill="#7a7a7a"/>
<line x1="516.20" y1="183.60" x2="529.00" y2="183.60" stroke="#7a7a7a" stroke-width="0.8"/>
<circle cx="522.50" cy="183.60" r="2.0" fill="#7a7a7a"/>
<line x1="515.60" y1="189.82" x2="529.00" y2="189.82" stroke="#7a7a7a" stroke-width="0.8"/>
<circle cx="522.30" cy="189.82" r="2.0" fill="#7a7a7a"/>
<line x1="516.20" y1="196.03" x2="528.60" y2="196.03" stroke="#bdbdbd" stroke-width="0.8"/>
<circle cx="522.30" cy="196.03" r="2.0" fill="#7a7a7a"/>
<line x1="517.10" y1="202.25" x2="526.50" y2="202.25" stroke="#7a7a7a" stroke-width="0.8"/>
<circle cx="522.00" cy="202.25" r="2.0" fill="#7a7a7a"/>
<line x1="517.10" y1="208.46" x2="526.20" y2="208.46" stroke="#7a7a7a" stroke-width="0.8"/>
<circle cx="521.70" cy="208.46" r="2.0" fill="#7a7a7a"/>
<line x1="509.00" y1="214.68" x2="534.80" y2="214.68" stroke="#7a7a7a" stroke-width="0.8"/>
<circle cx="521.70" cy="214.68" r="2.0" fill="#7a7a7a"/>
<line x1="505.10" y1="220.90" x2="536.70" y2="220.90" stroke="#bdbdbd" stroke-width="0.8"/>
<circle cx="520.60" cy="220.90" r="2.0" fill="#7a7a7a"/>
<line x1="511.20" y1="227.11" x2="524.00" y2="227.11" stroke="#cbc6f5" stroke-width="0.8"/>
<circle cx="517.60" cy="227.11" r="2.0" fill="#8f87e9"/>
<line x1="505.10" y1="233.33" x2="525.30" y2="233.33" stroke="#a69ef0" stroke-width="0.8"/>
<circle cx="515.40" cy="233.33" r="2.0" fill="#8f87e9"/>
<line x1="504.50" y1="239.54" x2="525.60" y2="239.54" stroke="#7a7a7a" stroke-width="0.8"/>
<circle cx="515.30" cy="239.54" r="2.0" fill="#7a7a7a"/>
<line x1="498.20" y1="245.76" x2="524.00" y2="245.76" stroke="#a69ef0" stroke-width="0.8"/>
<circle cx="511.50" cy="245.76" r="2.0" fill="#8f87e9"/>
<line x1="497.90" y1="251.98" x2="522.00" y2="251.98" stroke="#cbc6f5" stroke-width="0.8"/>
<circle cx="509.70" cy="251.98" r="2.0" fill="#8f87e9"/>
<line x1="494.00" y1="258.19" x2="525.30" y2="258.19" stroke="#a69ef0" stroke-width="0.8"/>
<circle cx="509.70" cy="258.19" r="2.0" fill="#8f87e9"/>
<text x="478.8" y="4.3" font-size="6.15" fill="#1a1a1a">95% CI excludes 0</text>
<circle cx="536.6" cy="2.3" r="1.75" fill="#7a7a7a"/>
<text x="541.9" y="4.3" font-size="6.15" fill="#1a1a1a">No</text>
<circle cx="556.2" cy="2.3" r="1.75" fill="#8f87e9"/>
<text x="561.5" y="4.3" font-size="6.15" fill="#1a1a1a">Yes</text>
<text x="412.8" y="284.0" font-size="7.6" font-weight="bold" fill="#000" text-anchor="middle">Estimated log fold change (95% CI, DTG vs DRV/r)</text>
<rect x="570.20" y="24.66" width="11.20" height="6.84" fill="#8db4d8"/>
<rect x="581.70" y="24.66" width="11.20" height="6.84" fill="#f9b9a8"/>
<rect x="593.20" y="24.66" width="11.20" height="6.84" fill="#ec7a62"/>
<rect x="604.70" y="24.66" width="11.20" height="6.84" fill="#f4a08a"/>
<rect x="570.20" y="30.90" width="11.20" height="6.84" fill="#cddcea"/>
<rect x="581.70" y="30.90" width="11.20" height="6.84" fill="#fbe3dc"/>
<rect x="593.20" y="30.90" width="11.20" height="6.84" fill="#f9c3b4"/>
<rect x="604.70" y="30.90" width="11.20" height="6.84" fill="#f7b0a0"/>
<rect x="570.20" y="37.14" width="11.20" height="6.84" fill="#cddcea"/>
<rect x="581.70" y="37.14" width="11.20" height="6.84" fill="#ec6f55"/>
<rect x="593.20" y="37.14" width="11.20" height="6.84" fill="#fad7cd"/>
<rect x="604.70" y="37.14" width="11.20" height="6.84" fill="#f7b0a0"/>
<rect x="570.20" y="43.38" width="11.20" height="6.84" fill="#cddcea"/>
<rect x="581.70" y="43.38" width="11.20" height="6.84" fill="#ef8068"/>
<rect x="593.20" y="43.38" width="11.20" height="6.84" fill="#fad7cd"/>
<rect x="604.70" y="43.38" width="11.20" height="6.84" fill="#f7b0a0"/>
<rect x="570.20" y="49.62" width="11.20" height="6.84" fill="#cddcea"/>
<rect x="581.70" y="49.62" width="11.20" height="6.84" fill="#ef8068"/>
<rect x="593.20" y="49.62" width="11.20" height="6.84" fill="#fad7cd"/>
<rect x="604.70" y="49.62" width="11.20" height="6.84" fill="#f7b0a0"/>
<rect x="570.20" y="55.86" width="11.20" height="6.84" fill="#cddcea"/>
<rect x="581.70" y="55.86" width="11.20" height="6.84" fill="#ef8068"/>
<rect x="593.20" y="55.86" width="11.20" height="6.84" fill="#fad7cd"/>
<rect x="604.70" y="55.86" width="11.20" height="6.84" fill="#f7b0a0"/>
<rect x="570.20" y="62.09" width="11.20" height="6.84" fill="#cddcea"/>
<rect x="581.70" y="62.09" width="11.20" height="6.84" fill="#ef8068"/>
<rect x="593.20" y="62.09" width="11.20" height="6.84" fill="#fad7cd"/>
<rect x="604.70" y="62.09" width="11.20" height="6.84" fill="#f7b0a0"/>
<rect x="570.20" y="68.33" width="11.20" height="6.84" fill="#cddcea"/>
<rect x="581.70" y="68.33" width="11.20" height="6.84" fill="#f8b4a3"/>
<rect x="593.20" y="68.33" width="11.20" height="6.84" fill="#f9c8bb"/>
<rect x="604.70" y="68.33" width="11.20" height="6.84" fill="#f7b0a0"/>
<rect x="570.20" y="74.57" width="11.20" height="6.84" fill="#f8f4f2"/>
<rect x="581.70" y="74.57" width="11.20" height="6.84" fill="#f9c3b5"/>
<rect x="593.20" y="74.57" width="11.20" height="6.84" fill="#fae4dd"/>
<rect x="604.70" y="74.57" width="11.20" height="6.84" fill="#fad4c9"/>
<rect x="570.20" y="80.81" width="11.20" height="6.84" fill="#eef0f4"/>
<rect x="581.70" y="80.81" width="11.20" height="6.84" fill="#f9c3b5"/>
<rect x="593.20" y="80.81" width="11.20" height="6.84" fill="#fbe0d8"/>
<rect x="604.70" y="80.81" width="11.20" height="6.84" fill="#fad4c9"/>
<rect x="570.20" y="87.05" width="11.20" height="6.84" fill="#f3f4f7"/>
<rect x="581.70" y="87.05" width="11.20" height="6.84" fill="#fbd6cb"/>
<rect x="593.20" y="87.05" width="11.20" height="6.84" fill="#fbe0d8"/>
<rect x="604.70" y="87.05" width="11.20" height="6.84" fill="#fbe3db"/>
<rect x="570.20" y="93.29" width="11.20" height="6.84" fill="#c6d8ea"/>
<rect x="581.70" y="93.29" width="11.20" height="6.84" fill="#f7ac98"/>
<rect x="593.20" y="93.29" width="11.20" height="6.84" fill="#f9b7a6"/>
<rect x="604.70" y="93.29" width="11.20" height="6.84" fill="#fbe3db"/>
<rect x="570.20" y="99.53" width="11.20" height="6.84" fill="#c6d8ea"/>
<rect x="581.70" y="99.53" width="11.20" height="6.84" fill="#f4967e"/>
<rect x="593.20" y="99.53" width="11.20" height="6.84" fill="#fbd3c8"/>
<rect x="604.70" y="99.53" width="11.20" height="6.84" fill="#fbe3db"/>
<rect x="570.20" y="105.77" width="11.20" height="6.84" fill="#e6ecf4"/>
<rect x="581.70" y="105.77" width="11.20" height="6.84" fill="#f8b7a6"/>
<rect x="593.20" y="105.77" width="11.20" height="6.84" fill="#fbe3dc"/>
<rect x="604.70" y="105.77" width="11.20" height="6.84" fill="#fbe3db"/>
<rect x="570.20" y="112.01" width="11.20" height="6.84" fill="#fbeae6"/>
<rect x="581.70" y="112.01" width="11.20" height="6.84" fill="#f8b4a3"/>
<rect x="593.20" y="112.01" width="11.20" height="6.84" fill="#f9c1b3"/>
<rect x="604.70" y="112.01" width="11.20" height="6.84" fill="#fbe8e2"/>
<rect x="570.20" y="118.24" width="11.20" height="6.84" fill="#fbeae6"/>
<rect x="581.70" y="118.24" width="11.20" height="6.84" fill="#f9c1b3"/>
<rect x="593.20" y="118.24" width="11.20" height="6.84" fill="#f7f5f5"/>
<rect x="604.70" y="118.24" width="11.20" height="6.84" fill="#fbe8e2"/>
<rect x="570.20" y="124.48" width="11.20" height="6.84" fill="#c3d7ea"/>
<rect x="581.70" y="124.48" width="11.20" height="6.84" fill="#ea6e55"/>
<rect x="593.20" y="124.48" width="11.20" height="6.84" fill="#fbd8ce"/>
<rect x="604.70" y="124.48" width="11.20" height="6.84" fill="#fbe8e2"/>
<rect x="570.20" y="130.72" width="11.20" height="6.84" fill="#c3d7ea"/>
<rect x="581.70" y="130.72" width="11.20" height="6.84" fill="#e65c45"/>
<rect x="593.20" y="130.72" width="11.20" height="6.84" fill="#fad1c5"/>
<rect x="604.70" y="130.72" width="11.20" height="6.84" fill="#fbe8e2"/>
<rect x="570.20" y="136.96" width="11.20" height="6.84" fill="#d2e0ee"/>
<rect x="581.70" y="136.96" width="11.20" height="6.84" fill="#f4a08a"/>
<rect x="593.20" y="136.96" width="11.20" height="6.84" fill="#fbe3dc"/>
<rect x="604.70" y="136.96" width="11.20" height="6.84" fill="#fbeee9"/>
<rect x="570.20" y="143.20" width="11.20" height="6.84" fill="#c6d8ea"/>
<rect x="581.70" y="143.20" width="11.20" height="6.84" fill="#f08a72"/>
<rect x="593.20" y="143.20" width="11.20" height="6.84" fill="#fbc8bb"/>
<rect x="604.70" y="143.20" width="11.20" height="6.84" fill="#f6f5f6"/>
<rect x="570.20" y="149.44" width="11.20" height="6.84" fill="#fbeeea"/>
<rect x="581.70" y="149.44" width="11.20" height="6.84" fill="#a7c6e0"/>
<rect x="593.20" y="149.44" width="11.20" height="6.84" fill="#cadcec"/>
<rect x="604.70" y="149.44" width="11.20" height="6.84" fill="#f1f2f5"/>
<rect x="570.20" y="155.68" width="11.20" height="6.84" fill="#b6cfe6"/>
<rect x="581.70" y="155.68" width="11.20" height="6.84" fill="#e5563f"/>
<rect x="593.20" y="155.68" width="11.20" height="6.84" fill="#fbccc0"/>
<rect x="604.70" y="155.68" width="11.20" height="6.84" fill="#f1f2f5"/>
<rect x="570.20" y="161.92" width="11.20" height="6.84" fill="#b6cfe6"/>
<rect x="581.70" y="161.92" width="11.20" height="6.84" fill="#e5563f"/>
<rect x="593.20" y="161.92" width="11.20" height="6.84" fill="#fbccc0"/>
<rect x="604.70" y="161.92" width="11.20" height="6.84" fill="#f1f2f5"/>
<rect x="570.20" y="168.16" width="11.20" height="6.84" fill="#fac3b5"/>
<rect x="581.70" y="168.16" width="11.20" height="6.84" fill="#a7c6e0"/>
<rect x="593.20" y="168.16" width="11.20" height="6.84" fill="#d4e2ef"/>
<rect x="604.70" y="168.16" width="11.20" height="6.84" fill="#e5ecf4"/>
<rect x="570.20" y="174.40" width="11.20" height="6.84" fill="#fbe0d8"/>
<rect x="581.70" y="174.40" width="11.20" height="6.84" fill="#a3c3df"/>
<rect x="593.20" y="174.40" width="11.20" height="6.84" fill="#c8daeb"/>
<rect x="604.70" y="174.40" width="11.20" height="6.84" fill="#e5ecf4"/>
<rect x="570.20" y="180.63" width="11.20" height="6.84" fill="#fbeeea"/>
<rect x="581.70" y="180.63" width="11.20" height="6.84" fill="#bcd2e7"/>
<rect x="593.20" y="180.63" width="11.20" height="6.84" fill="#e6edf5"/>
<rect x="604.70" y="180.63" width="11.20" height="6.84" fill="#e5ecf4"/>
<rect x="570.20" y="186.87" width="11.20" height="6.84" fill="#fbe3dc"/>
<rect x="581.70" y="186.87" width="11.20" height="6.84" fill="#a9c6e1"/>
<rect x="593.20" y="186.87" width="11.20" height="6.84" fill="#a9c6e1"/>
<rect x="604.70" y="186.87" width="11.20" height="6.84" fill="#e5ecf4"/>
<rect x="570.20" y="193.11" width="11.20" height="6.84" fill="#fbe3dc"/>
<rect x="581.70" y="193.11" width="11.20" height="6.84" fill="#b2cce4"/>
<rect x="593.20" y="193.11" width="11.20" height="6.84" fill="#b2cce4"/>
<rect x="604.70" y="193.11" width="11.20" height="6.84" fill="#e5ecf4"/>
<rect x="570.20" y="199.35" width="11.20" height="6.84" fill="#fbd6cb"/>
<rect x="581.70" y="199.35" width="11.20" height="6.84" fill="#d0deed"/>
<rect x="593.20" y="199.35" width="11.20" height="6.84" fill="#c4d7ea"/>
<rect x="604.70" y="199.35" width="11.20" height="6.84" fill="#d9e4f0"/>
<rect x="570.20" y="205.59" width="11.20" height="6.84" fill="#fbeeea"/>
<rect x="581.70" y="205.59" width="11.20" height="6.84" fill="#d0deed"/>
<rect x="593.20" y="205.59" width="11.20" height="6.84" fill="#dbe6f1"/>
<rect x="604.70" y="205.59" width="11.20" height="6.84" fill="#d9e4f0"/>
<rect x="570.20" y="211.83" width="11.20" height="6.84" fill="#fbd0c4"/>
<rect x="581.70" y="211.83" width="11.20" height="6.84" fill="#9fbfdc"/>
<rect x="593.20" y="211.83" width="11.20" height="6.84" fill="#2e86c1"/>
<rect x="604.70" y="211.83" width="11.20" height="6.84" fill="#d9e4f0"/>
<rect x="570.20" y="218.07" width="11.20" height="6.84" fill="#fbd0c4"/>
<rect x="581.70" y="218.07" width="11.20" height="6.84" fill="#5e9dcd"/>
<rect x="593.20" y="218.07" width="11.20" height="6.84" fill="#fbe6e0"/>
<rect x="604.70" y="218.07" width="11.20" height="6.84" fill="#d9e4f0"/>
<rect x="570.20" y="224.31" width="11.20" height="6.84" fill="#fac0b1"/>
<rect x="581.70" y="224.31" width="11.20" height="6.84" fill="#e3eaf3"/>
<rect x="593.20" y="224.31" width="11.20" height="6.84" fill="#d5e2ef"/>
<rect x="604.70" y="224.31" width="11.20" height="6.84" fill="#b4cde5"/>
<rect x="570.20" y="230.55" width="11.20" height="6.84" fill="#fbd8ce"/>
<rect x="581.70" y="230.55" width="11.20" height="6.84" fill="#eff2f6"/>
<rect x="593.20" y="230.55" width="11.20" height="6.84" fill="#d5e2ef"/>
<rect x="604.70" y="230.55" width="11.20" height="6.84" fill="#a5c4df"/>
<rect x="570.20" y="236.79" width="11.20" height="6.84" fill="#f6a48e"/>
<rect x="581.70" y="236.79" width="11.20" height="6.84" fill="#5d9ccc"/>
<rect x="593.20" y="236.79" width="11.20" height="6.84" fill="#8fb6d9"/>
<rect x="604.70" y="236.79" width="11.20" height="6.84" fill="#a5c4df"/>
<rect x="570.20" y="243.03" width="11.20" height="6.84" fill="#f08a72"/>
<rect x="581.70" y="243.03" width="11.20" height="6.84" fill="#5d9ccc"/>
<rect x="593.20" y="243.03" width="11.20" height="6.84" fill="#8fb6d9"/>
<rect x="604.70" y="243.03" width="11.20" height="6.84" fill="#6aa4d0"/>
<rect x="570.20" y="249.26" width="11.20" height="6.84" fill="#ea6e55"/>
<rect x="581.70" y="249.26" width="11.20" height="6.84" fill="#5d9ccc"/>
<rect x="593.20" y="249.26" width="11.20" height="6.84" fill="#2b86c2"/>
<rect x="604.70" y="249.26" width="11.20" height="6.84" fill="#6aa4d0"/>
<rect x="570.20" y="255.50" width="11.20" height="6.24" fill="#cddcea"/>
<rect x="581.70" y="255.50" width="11.20" height="6.24" fill="#dfe7f1"/>
<rect x="593.20" y="255.50" width="11.20" height="6.24" fill="#f4f4f6"/>
<rect x="604.70" y="255.50" width="11.20" height="6.24" fill="#6aa4d0"/>
<line x1="570.20" y1="24.66" x2="581.40" y2="24.66" stroke="#8a8a8a" stroke-width="0.7"/>
<line x1="570.20" y1="261.74" x2="581.40" y2="261.74" stroke="#9a9a9a" stroke-width="0.7"/>
<line x1="570.20" y1="24.66" x2="570.20" y2="261.74" stroke="#333" stroke-width="0.75"/>
<line x1="581.40" y1="24.66" x2="581.40" y2="261.74" stroke="#333" stroke-width="0.75"/>
<line x1="581.70" y1="24.66" x2="592.90" y2="24.66" stroke="#8a8a8a" stroke-width="0.7"/>
<line x1="581.70" y1="261.74" x2="592.90" y2="261.74" stroke="#9a9a9a" stroke-width="0.7"/>
<line x1="581.70" y1="24.66" x2="581.70" y2="261.74" stroke="#333" stroke-width="0.75"/>
<line x1="592.90" y1="24.66" x2="592.90" y2="261.74" stroke="#333" stroke-width="0.75"/>
<line x1="593.20" y1="24.66" x2="604.40" y2="24.66" stroke="#8a8a8a" stroke-width="0.7"/>
<line x1="593.20" y1="261.74" x2="604.40" y2="261.74" stroke="#9a9a9a" stroke-width="0.7"/>
<line x1="593.20" y1="24.66" x2="593.20" y2="261.74" stroke="#333" stroke-width="0.75"/>
<line x1="604.40" y1="24.66" x2="604.40" y2="261.74" stroke="#333" stroke-width="0.75"/>
<line x1="604.70" y1="24.66" x2="615.90" y2="24.66" stroke="#8a8a8a" stroke-width="0.7"/>
<line x1="604.70" y1="261.74" x2="615.90" y2="261.74" stroke="#9a9a9a" stroke-width="0.7"/>
<line x1="604.70" y1="24.66" x2="604.70" y2="261.74" stroke="#333" stroke-width="0.75"/>
<line x1="615.90" y1="24.66" x2="615.90" y2="261.74" stroke="#333" stroke-width="0.75"/>
<text x="575.80" y="269.0" font-size="5.4" fill="#1a1a1a" text-anchor="middle">0</text>
<text x="587.30" y="269.0" font-size="5.4" fill="#1a1a1a" text-anchor="middle">24</text>
<text x="598.80" y="269.0" font-size="5.4" fill="#1a1a1a" text-anchor="middle">48</text>
<text x="610.30" y="269.0" font-size="5.4" fill="#1a1a1a" text-anchor="middle">96</text>
<rect x="618.3" y="24.60" width="26.1" height="236.90" rx="0.8" fill="none" stroke="#666" stroke-width="0.7"/>
<rect x="618.60" y="26.60" width="10.00" height="3.2" fill="#9ecae1" stroke="#2a2a2a" stroke-width="0.6"/>
<rect x="618.60" y="32.82" width="21.70" height="3.2" fill="#9ecae1" stroke="#2a2a2a" stroke-width="0.6"/>
<rect x="618.60" y="39.03" width="7.20" height="3.2" fill="#9ecae1" stroke="#2a2a2a" stroke-width="0.6"/>
<rect x="618.60" y="45.25" width="7.20" height="3.2" fill="#9ecae1" stroke="#2a2a2a" stroke-width="0.6"/>
<rect x="618.60" y="51.46" width="7.20" height="3.2" fill="#9ecae1" stroke="#2a2a2a" stroke-width="0.6"/>
<rect x="618.60" y="57.68" width="7.20" height="3.2" fill="#9ecae1" stroke="#2a2a2a" stroke-width="0.6"/>
<rect x="618.60" y="63.90" width="7.20" height="3.2" fill="#9ecae1" stroke="#2a2a2a" stroke-width="0.6"/>
<rect x="618.60" y="70.11" width="21.80" height="3.2" fill="#9ecae1" stroke="#2a2a2a" stroke-width="0.6"/>
<rect x="618.60" y="76.33" width="24.00" height="3.2" fill="#9ecae1" stroke="#2a2a2a" stroke-width="0.6"/>
<rect x="618.60" y="82.54" width="24.00" height="3.2" fill="#9ecae1" stroke="#2a2a2a" stroke-width="0.6"/>
<rect x="618.60" y="88.76" width="24.00" height="3.2" fill="#9ecae1" stroke="#2a2a2a" stroke-width="0.6"/>
<rect x="618.60" y="94.98" width="23.00" height="3.2" fill="#9ecae1" stroke="#2a2a2a" stroke-width="0.6"/>
<rect x="618.60" y="101.19" width="23.70" height="3.2" fill="#9ecae1" stroke="#2a2a2a" stroke-width="0.6"/>
<rect x="618.60" y="107.41" width="24.20" height="3.2" fill="#9ecae1" stroke="#2a2a2a" stroke-width="0.6"/>
<rect x="618.60" y="113.62" width="21.10" height="3.2" fill="#9ecae1" stroke="#2a2a2a" stroke-width="0.6"/>
<rect x="618.60" y="119.84" width="23.70" height="3.2" fill="#9ecae1" stroke="#2a2a2a" stroke-width="0.6"/>
<rect x="618.60" y="126.06" width="13.10" height="3.2" fill="#9ecae1" stroke="#2a2a2a" stroke-width="0.6"/>
<rect x="618.60" y="132.27" width="7.80" height="3.2" fill="#9ecae1" stroke="#2a2a2a" stroke-width="0.6"/>
<rect x="618.60" y="138.49" width="21.10" height="3.2" fill="#9ecae1" stroke="#2a2a2a" stroke-width="0.6"/>
<rect x="618.60" y="144.70" width="11.00" height="3.2" fill="#9ecae1" stroke="#2a2a2a" stroke-width="0.6"/>
<rect x="618.60" y="150.92" width="16.00" height="3.2" fill="#9ecae1" stroke="#2a2a2a" stroke-width="0.6"/>
<rect x="618.60" y="157.14" width="7.80" height="3.2" fill="#9ecae1" stroke="#2a2a2a" stroke-width="0.6"/>
<rect x="618.60" y="163.35" width="7.80" height="3.2" fill="#9ecae1" stroke="#2a2a2a" stroke-width="0.6"/>
<rect x="618.60" y="169.57" width="22.40" height="3.2" fill="#9ecae1" stroke="#2a2a2a" stroke-width="0.6"/>
<rect x="618.60" y="175.78" width="22.40" height="3.2" fill="#9ecae1" stroke="#2a2a2a" stroke-width="0.6"/>
<rect x="618.60" y="182.00" width="21.80" height="3.2" fill="#9ecae1" stroke="#2a2a2a" stroke-width="0.6"/>
<rect x="618.60" y="188.22" width="23.20" height="3.2" fill="#9ecae1" stroke="#2a2a2a" stroke-width="0.6"/>
<rect x="618.60" y="194.43" width="23.70" height="3.2" fill="#9ecae1" stroke="#2a2a2a" stroke-width="0.6"/>
<rect x="618.60" y="200.65" width="22.80" height="3.2" fill="#9ecae1" stroke="#2a2a2a" stroke-width="0.6"/>
<rect x="618.60" y="206.86" width="23.90" height="3.2" fill="#9ecae1" stroke="#2a2a2a" stroke-width="0.6"/>
<rect x="618.60" y="213.08" width="3.70" height="3.2" fill="#9ecae1" stroke="#2a2a2a" stroke-width="0.6"/>
<rect x="618.60" y="219.30" width="6.10" height="3.2" fill="#9ecae1" stroke="#2a2a2a" stroke-width="0.6"/>
<rect x="618.60" y="225.51" width="14.80" height="3.2" fill="#9ecae1" stroke="#2a2a2a" stroke-width="0.6"/>
<rect x="618.60" y="231.73" width="8.70" height="3.2" fill="#9ecae1" stroke="#2a2a2a" stroke-width="0.6"/>
<rect x="618.60" y="237.94" width="5.50" height="3.2" fill="#9ecae1" stroke="#2a2a2a" stroke-width="0.6"/>
<rect x="618.60" y="244.16" width="6.40" height="3.2" fill="#9ecae1" stroke="#2a2a2a" stroke-width="0.6"/>
<rect x="618.60" y="250.38" width="5.00" height="3.2" fill="#9ecae1" stroke="#2a2a2a" stroke-width="0.6"/>
<rect x="618.60" y="256.59" width="6.10" height="3.2" fill="#9ecae1" stroke="#2a2a2a" stroke-width="0.6"/>
<line x1="618.60" y1="261.50" x2="618.60" y2="262.50" stroke="#7a7a7a" stroke-width="0.5"/>
<text transform="translate(617.00,263.70) rotate(90)" font-size="4.6" fill="#333" text-anchor="start">0</text>
<line x1="630.90" y1="261.50" x2="630.90" y2="262.50" stroke="#7a7a7a" stroke-width="0.5"/>
<text transform="translate(629.30,263.70) rotate(90)" font-size="4.6" fill="#333" text-anchor="start">0.5</text>
<line x1="643.20" y1="261.50" x2="643.20" y2="262.50" stroke="#7a7a7a" stroke-width="0.5"/>
<text transform="translate(641.60,263.70) rotate(90)" font-size="4.6" fill="#333" text-anchor="start">1</text>
<text x="631.6" y="277.4" font-size="5.06" fill="#1a1a1a" text-anchor="middle">Prevalence</text>
<defs><linearGradient id="lfc" x1="0" y1="0" x2="0" y2="1"><stop offset="0" stop-color="#d3302a"/><stop offset="0.25" stop-color="#f08a76"/><stop offset="0.5" stop-color="#f7f7f7"/><stop offset="0.75" stop-color="#92bddc"/><stop offset="1" stop-color="#2c7fb8"/></linearGradient><linearGradient id="piyg" x1="0" y1="0" x2="1" y2="0">
<stop offset="0.00" stop-color="#276419"/>
<stop offset="0.10" stop-color="#4d9221"/>
<stop offset="0.20" stop-color="#7fbc41"/>
<stop offset="0.30" stop-color="#b8e186"/>
<stop offset="0.40" stop-color="#e6f5d0"/>
<stop offset="0.50" stop-color="#f7f7f7"/>
<stop offset="0.60" stop-color="#fde0ef"/>
<stop offset="0.70" stop-color="#f1b6da"/>
<stop offset="0.80" stop-color="#de77ae"/>
<stop offset="0.90" stop-color="#c51b7d"/>
<stop offset="1.00" stop-color="#8e0152"/>
</linearGradient></defs>
<text x="651" y="121.2" font-size="5.06" font-weight="bold" fill="#1a1a1a">logFC</text>
<text x="651" y="126.6" font-size="5.06" font-weight="bold" fill="#1a1a1a">(DTG vs RAL)</text>
<rect x="651" y="128.5" width="5.9" height="30.2" fill="url(#lfc)"/>
<line x1="651" y1="130.00" x2="652.2" y2="130.00" stroke="#fff" stroke-width="0.5"/>
<line x1="655.7" y1="130.00" x2="656.9" y2="130.00" stroke="#fff" stroke-width="0.5"/>
<text x="658" y="131.90" font-size="5.3" fill="#333">2</text>
<line x1="651" y1="137.10" x2="652.2" y2="137.10" stroke="#fff" stroke-width="0.5"/>
<line x1="655.7" y1="137.10" x2="656.9" y2="137.10" stroke="#fff" stroke-width="0.5"/>
<text x="658" y="139.00" font-size="5.3" fill="#333">1</text>
<line x1="651" y1="144.20" x2="652.2" y2="144.20" stroke="#fff" stroke-width="0.5"/>
<line x1="655.7" y1="144.20" x2="656.9" y2="144.20" stroke="#fff" stroke-width="0.5"/>
<text x="658" y="146.10" font-size="5.3" fill="#333">0</text>
<line x1="651" y1="150.80" x2="652.2" y2="150.80" stroke="#fff" stroke-width="0.5"/>
<line x1="655.7" y1="150.80" x2="656.9" y2="150.80" stroke="#fff" stroke-width="0.5"/>
<text x="658" y="152.70" font-size="5.3" fill="#333">−1</text>
<line x1="651" y1="157.50" x2="652.2" y2="157.50" stroke="#fff" stroke-width="0.5"/>
<line x1="655.7" y1="157.50" x2="656.9" y2="157.50" stroke="#fff" stroke-width="0.5"/>
<text x="658" y="159.40" font-size="5.3" fill="#333">−2</text>
<g stroke="#e6e6e6" stroke-width="0.55">
<line x1="285.60" y1="333.45" x2="475.20" y2="333.45"/>
<line x1="285.60" y1="343.47" x2="475.20" y2="343.47"/>
<line x1="285.60" y1="353.49" x2="475.20" y2="353.49"/>
<line x1="285.60" y1="363.50" x2="475.20" y2="363.50"/>
<line x1="285.60" y1="373.52" x2="475.20" y2="373.52"/>
<line x1="285.60" y1="383.54" x2="475.20" y2="383.54"/>
<line x1="285.60" y1="393.56" x2="475.20" y2="393.56"/>
<line x1="285.60" y1="403.58" x2="475.20" y2="403.58"/>
<line x1="285.60" y1="413.59" x2="475.20" y2="413.59"/>
<line x1="285.60" y1="423.61" x2="475.20" y2="423.61"/>
<line x1="285.60" y1="433.63" x2="475.20" y2="433.63"/>
<line x1="285.60" y1="443.65" x2="475.20" y2="443.65"/>
<line x1="285.60" y1="453.67" x2="475.20" y2="453.67"/>
<line x1="285.60" y1="463.68" x2="475.20" y2="463.68"/>
<line x1="285.60" y1="473.70" x2="475.20" y2="473.70"/>
<line x1="285.60" y1="483.72" x2="475.20" y2="483.72"/>
<line x1="285.60" y1="493.74" x2="475.20" y2="493.74"/>
<line x1="285.60" y1="503.76" x2="475.20" y2="503.76"/>
<line x1="285.60" y1="513.77" x2="475.20" y2="513.77"/>
<line x1="285.60" y1="523.79" x2="475.20" y2="523.79"/>
<line x1="285.60" y1="533.81" x2="475.20" y2="533.81"/>
<line x1="285.60" y1="543.83" x2="475.20" y2="543.83"/>
<line x1="285.60" y1="553.85" x2="475.20" y2="553.85"/>
<line x1="285.60" y1="563.86" x2="475.20" y2="563.86"/>
<line x1="285.60" y1="573.88" x2="475.20" y2="573.88"/>
<line x1="285.60" y1="583.90" x2="475.20" y2="583.90"/>
<line x1="285.60" y1="593.92" x2="475.20" y2="593.92"/>
<line x1="285.60" y1="603.94" x2="475.20" y2="603.94"/>
<line x1="285.60" y1="613.95" x2="475.20" y2="613.95"/>
<line x1="285.60" y1="623.97" x2="475.20" y2="623.97"/>
<line x1="285.60" y1="633.99" x2="475.20" y2="633.99"/>
<line x1="285.60" y1="644.01" x2="475.20" y2="644.01"/>
<line x1="285.60" y1="654.03" x2="475.20" y2="654.03"/>
<line x1="285.60" y1="664.04" x2="475.20" y2="664.04"/>
<line x1="285.60" y1="674.06" x2="475.20" y2="674.06"/>
<line x1="285.60" y1="684.08" x2="475.20" y2="684.08"/>
<line x1="285.60" y1="694.10" x2="475.20" y2="694.10"/>
<line x1="285.60" y1="704.12" x2="475.20" y2="704.12"/>
<line x1="297.85" y1="327.90" x2="297.85" y2="710.00"/>
<line x1="318.48" y1="327.90" x2="318.48" y2="710.00"/>
<line x1="339.10" y1="327.90" x2="339.10" y2="710.00"/>
<line x1="359.73" y1="327.90" x2="359.73" y2="710.00"/>
<line x1="380.35" y1="327.90" x2="380.35" y2="710.00"/>
<line x1="400.98" y1="327.90" x2="400.98" y2="710.00"/>
<line x1="421.60" y1="327.90" x2="421.60" y2="710.00"/>
<line x1="442.23" y1="327.90" x2="442.23" y2="710.00"/>
<line x1="462.85" y1="327.90" x2="462.85" y2="710.00"/>
<line x1="478.70" y1="333.45" x2="668.50" y2="333.45"/>
<line x1="478.70" y1="343.47" x2="668.50" y2="343.47"/>
<line x1="478.70" y1="353.49" x2="668.50" y2="353.49"/>
<line x1="478.70" y1="363.50" x2="668.50" y2="363.50"/>
<line x1="478.70" y1="373.52" x2="668.50" y2="373.52"/>
<line x1="478.70" y1="383.54" x2="668.50" y2="383.54"/>
<line x1="478.70" y1="393.56" x2="668.50" y2="393.56"/>
<line x1="478.70" y1="403.58" x2="668.50" y2="403.58"/>
<line x1="478.70" y1="413.59" x2="668.50" y2="413.59"/>
<line x1="478.70" y1="423.61" x2="668.50" y2="423.61"/>
<line x1="478.70" y1="433.63" x2="668.50" y2="433.63"/>
<line x1="478.70" y1="443.65" x2="668.50" y2="443.65"/>
<line x1="478.70" y1="453.67" x2="668.50" y2="453.67"/>
<line x1="478.70" y1="463.68" x2="668.50" y2="463.68"/>
<line x1="478.70" y1="473.70" x2="668.50" y2="473.70"/>
<line x1="478.70" y1="483.72" x2="668.50" y2="483.72"/>
<line x1="478.70" y1="493.74" x2="668.50" y2="493.74"/>
<line x1="478.70" y1="503.76" x2="668.50" y2="503.76"/>
<line x1="478.70" y1="513.77" x2="668.50" y2="513.77"/>
<line x1="478.70" y1="523.79" x2="668.50" y2="523.79"/>
<line x1="478.70" y1="533.81" x2="668.50" y2="533.81"/>
<line x1="478.70" y1="543.83" x2="668.50" y2="543.83"/>
<line x1="478.70" y1="553.85" x2="668.50" y2="553.85"/>
<line x1="478.70" y1="563.86" x2="668.50" y2="563.86"/>
<line x1="478.70" y1="573.88" x2="668.50" y2="573.88"/>
<line x1="478.70" y1="583.90" x2="668.50" y2="583.90"/>
<line x1="478.70" y1="593.92" x2="668.50" y2="593.92"/>
<line x1="478.70" y1="603.94" x2="668.50" y2="603.94"/>
<line x1="478.70" y1="613.95" x2="668.50" y2="613.95"/>
<line x1="478.70" y1="623.97" x2="668.50" y2="623.97"/>
<line x1="478.70" y1="633.99" x2="668.50" y2="633.99"/>
<line x1="478.70" y1="644.01" x2="668.50" y2="644.01"/>
<line x1="478.70" y1="654.03" x2="668.50" y2="654.03"/>
<line x1="478.70" y1="664.04" x2="668.50" y2="664.04"/>
<line x1="478.70" y1="674.06" x2="668.50" y2="674.06"/>
<line x1="478.70" y1="684.08" x2="668.50" y2="684.08"/>
<line x1="478.70" y1="694.10" x2="668.50" y2="694.10"/>
<line x1="478.70" y1="704.12" x2="668.50" y2="704.12"/>
<line x1="491.10" y1="327.90" x2="491.10" y2="710.00"/>
<line x1="511.73" y1="327.90" x2="511.73" y2="710.00"/>
<line x1="532.35" y1="327.90" x2="532.35" y2="710.00"/>
<line x1="552.98" y1="327.90" x2="552.98" y2="710.00"/>
<line x1="573.60" y1="327.90" x2="573.60" y2="710.00"/>
<line x1="594.23" y1="327.90" x2="594.23" y2="710.00"/>
<line x1="614.85" y1="327.90" x2="614.85" y2="710.00"/>
<line x1="635.48" y1="327.90" x2="635.48" y2="710.00"/>
<line x1="656.10" y1="327.90" x2="656.10" y2="710.00"/>
</g>
<g font-size="5.4" fill="#383838" text-anchor="end">
<text x="282.2" y="335.50">METHANOGENESIS–PWY: methanogenesis from H2 and CO2</text>
<text x="282.2" y="345.52">PWY–5005: biotin biosynthesis II</text>
<text x="282.2" y="355.54">UBISYN–PWY: superpathway of ubiquinol–8 biosynthesis (prokaryotic)</text>
<text x="282.2" y="365.55">PWY–6708: ubiquinol–8 biosynthesis (prokaryotic)</text>
<text x="282.2" y="375.57">PWY–5857: ubiquinol–10 biosynthesis (prokaryotic)</text>
<text x="282.2" y="385.59">PWY–5856: ubiquinol–9 biosynthesis (prokaryotic)</text>
<text x="282.2" y="395.61">PWY–5855: ubiquinol–7 biosynthesis (prokaryotic)</text>
<text x="282.2" y="405.63">POLYAMINSYN3–PWY: superpathway of polyamine biosynthesis II</text>
<text x="282.2" y="415.64">P42–PWY: incomplete reductive TCA cycle</text>
<text x="282.2" y="425.66">PWY–5690: TCA cycle II (plants and fungi)</text>
<text x="282.2" y="435.68">PWY–6549: L–glutamine biosynthesis III</text>
<text x="282.2" y="445.70">PWY–6628: superpathway of L–phenylalanine biosynthesis</text>
<text x="282.2" y="455.72">PWY–5189: tetrapyrrole biosynthesis II (from glycine)</text>
<text x="282.2" y="465.73">PHOSLIPSYN–PWY: superpathway of phospholipid biosynthesis I (bacteria)</text>
<text x="282.2" y="475.75">NONMEVIPP–PWY: methylerythritol phosphate pathway I</text>
<text x="282.2" y="485.77">PWY–6969: TCA cycle V (2–oxoglutarate:ferredoxin oxidoreductase)</text>
<text x="282.2" y="495.79">PWY–4702: phytate degradation I</text>
<text x="282.2" y="505.81">PWY0–1277: 3–phenylpropanoate and 3–(3–hydroxyphenyl)propanoate degradation</text>
<text x="282.2" y="515.82">PWY–5723: Rubisco shunt</text>
<text x="282.2" y="525.84">PWY–561: superpathway of glyoxylate cycle and fatty acid degradation</text>
<text x="282.2" y="535.86">PWY–6749: CMP–legionaminate biosynthesis I</text>
<text x="282.2" y="545.88">PWY–6690: cinnamate and 3–hydroxycinnamate degradation to 2–oxopent–4–enoate</text>
<text x="282.2" y="555.90">HCAMHPDEG–PWY: 3–phenylpropanoate and 3–(3–hydroxyphenyl)propanoate degradation to 2–oxopent–4–enoate</text>
<text x="282.2" y="565.91">RUMP–PWY: formaldehyde oxidation I</text>
<text x="282.2" y="575.93">ARGININE–SYN4–PWY: L–ornithine de novo  biosynthesis</text>
<text x="282.2" y="585.95">FOLSYN–PWY: superpathway of tetrahydrofolate biosynthesis and salvage</text>
<text x="282.2" y="595.97">PWY–4984: urea cycle</text>
<text x="282.2" y="605.99">CITRULBIO–PWY: L–citrulline biosynthesis</text>
<text x="282.2" y="616.00">POLYISOPRENSYN–PWY: polyisoprenoid biosynthesis (E. coli)</text>
<text x="282.2" y="626.02">PWY–5676: acetyl–CoA fermentation to butanoate II</text>
<text x="282.2" y="636.04">PWY66–388: fatty acid &amp;alpha;–oxidation III</text>
<text x="282.2" y="646.06">PWY66–367: ketogenesis</text>
<text x="282.2" y="656.08">PWY–5088: L–glutamate degradation VIII (to propanoate)</text>
<text x="282.2" y="666.09">PWY–4722: creatinine degradation II</text>
<text x="282.2" y="676.11">PWY–6572: chondroitin sulfate degradation I (bacterial)</text>
<text x="282.2" y="686.13">PWY–6478: GDP–D–glycero–&amp;alpha;–D–manno–heptose biosynthesis</text>
<text x="282.2" y="696.15">PWY–6435: 4–hydroxybenzoate biosynthesis V</text>
<text x="282.2" y="706.17">PWY–7446: sulfoglycolysis</text>
</g>
<rect x="295.95" y="331.55" width="3.80" height="3.80" fill="#f3f6ed"/>
<rect x="315.58" y="330.55" width="5.80" height="5.80" fill="#e6f5d0"/>
<rect x="337.50" y="331.85" width="3.20" height="3.20" fill="#f8f5f6"/>
<rect x="358.12" y="331.85" width="3.20" height="3.20" fill="#f8f5f6"/>
<rect x="377.28" y="330.38" width="6.13" height="6.13" fill="#def2c4"/>
<rect x="399.38" y="331.85" width="3.20" height="3.20" fill="#f8f5f6"/>
<rect x="419.85" y="331.70" width="3.50" height="3.50" fill="#f4f7f0"/>
<rect x="440.33" y="331.55" width="3.80" height="3.80" fill="#f8f1f5"/>
<rect x="460.15" y="330.75" width="5.40" height="5.40" fill="#fce4f0"/>
<rect x="295.65" y="341.27" width="4.40" height="4.40" fill="#faedf4"/>
<rect x="316.88" y="341.87" width="3.20" height="3.20" fill="#f6f7f4"/>
<rect x="336.20" y="340.57" width="5.80" height="5.80" fill="#fde0ef"/>
<rect x="356.58" y="340.32" width="6.30" height="6.30" fill="#daf0be"/>
<rect x="378.15" y="341.27" width="4.40" height="4.40" fill="#faedf4"/>
<rect x="398.48" y="340.97" width="5.00" height="5.00" fill="#ecf6dd"/>
<rect x="419.55" y="341.42" width="4.10" height="4.10" fill="#f9eff4"/>
<rect x="440.18" y="341.42" width="4.10" height="4.10" fill="#f1f6ea"/>
<rect x="459.43" y="340.04" width="6.85" height="6.85" fill="#f5c4e1"/>
<rect x="295.95" y="351.59" width="3.80" height="3.80" fill="#f3f6ed"/>
<rect x="315.12" y="350.14" width="6.70" height="6.70" fill="#f7cbe4"/>
<rect x="336.20" y="350.59" width="5.80" height="5.80" fill="#fde0ef"/>
<rect x="356.58" y="350.34" width="6.30" height="6.30" fill="#fad6ea"/>
<rect x="378.75" y="351.89" width="3.20" height="3.20" fill="#f8f5f6"/>
<rect x="398.78" y="351.29" width="4.40" height="4.40" fill="#faedf4"/>
<rect x="418.70" y="350.59" width="5.80" height="5.80" fill="#fde0ef"/>
<rect x="440.62" y="351.89" width="3.20" height="3.20" fill="#f8f5f6"/>
<rect x="460.15" y="350.79" width="5.40" height="5.40" fill="#e9f5d6"/>
<rect x="294.95" y="360.60" width="5.80" height="5.80" fill="#e6f5d0"/>
<rect x="315.12" y="360.15" width="6.70" height="6.70" fill="#f7cbe4"/>
<rect x="336.40" y="360.80" width="5.40" height="5.40" fill="#fce4f0"/>
<rect x="356.58" y="360.35" width="6.30" height="6.30" fill="#fad6ea"/>
<rect x="378.75" y="361.90" width="3.20" height="3.20" fill="#f8f5f6"/>
<rect x="398.58" y="361.10" width="4.80" height="4.80" fill="#faeaf2"/>
<rect x="418.70" y="360.60" width="5.80" height="5.80" fill="#fde0ef"/>
<rect x="440.62" y="361.90" width="3.20" height="3.20" fill="#f8f5f6"/>
<rect x="459.95" y="360.60" width="5.80" height="5.80" fill="#e6f5d0"/>
<rect x="294.95" y="370.62" width="5.80" height="5.80" fill="#e6f5d0"/>
<rect x="315.12" y="370.17" width="6.70" height="6.70" fill="#f7cbe4"/>
<rect x="336.40" y="370.82" width="5.40" height="5.40" fill="#fce4f0"/>
<rect x="356.58" y="370.37" width="6.30" height="6.30" fill="#fad6ea"/>
<rect x="378.75" y="371.92" width="3.20" height="3.20" fill="#f8f5f6"/>
<rect x="398.58" y="371.12" width="4.80" height="4.80" fill="#faeaf2"/>
<rect x="418.70" y="370.62" width="5.80" height="5.80" fill="#fde0ef"/>
<rect x="440.62" y="371.92" width="3.20" height="3.20" fill="#f8f5f6"/>
<rect x="459.95" y="370.62" width="5.80" height="5.80" fill="#e6f5d0"/>
<rect x="294.95" y="380.64" width="5.80" height="5.80" fill="#e6f5d0"/>
<rect x="315.12" y="380.19" width="6.70" height="6.70" fill="#f7cbe4"/>
<rect x="336.40" y="380.84" width="5.40" height="5.40" fill="#fce4f0"/>
<rect x="356.58" y="380.39" width="6.30" height="6.30" fill="#fad6ea"/>
<rect x="378.75" y="381.94" width="3.20" height="3.20" fill="#f8f5f6"/>
<rect x="398.58" y="381.14" width="4.80" height="4.80" fill="#faeaf2"/>
<rect x="418.70" y="380.64" width="5.80" height="5.80" fill="#fde0ef"/>
<rect x="440.62" y="381.94" width="3.20" height="3.20" fill="#f8f5f6"/>
<rect x="459.95" y="380.64" width="5.80" height="5.80" fill="#e6f5d0"/>
<rect x="295.15" y="390.86" width="5.40" height="5.40" fill="#e9f5d6"/>
<rect x="315.26" y="390.34" width="6.43" height="6.43" fill="#f9d2e8"/>
<rect x="336.60" y="391.06" width="5.00" height="5.00" fill="#fbe8f2"/>
<rect x="356.66" y="390.49" width="6.13" height="6.13" fill="#fbd9ec"/>
<rect x="378.75" y="391.96" width="3.20" height="3.20" fill="#f8f5f6"/>
<rect x="398.93" y="391.51" width="4.10" height="4.10" fill="#f9eff4"/>
<rect x="418.70" y="390.66" width="5.80" height="5.80" fill="#fde0ef"/>
<rect x="440.62" y="391.96" width="3.20" height="3.20" fill="#f8f5f6"/>
<rect x="459.95" y="390.66" width="5.80" height="5.80" fill="#e6f5d0"/>
<rect x="296.25" y="401.98" width="3.20" height="3.20" fill="#f8f5f6"/>
<rect x="316.58" y="401.68" width="3.80" height="3.80" fill="#f3f6ed"/>
<rect x="337.50" y="401.98" width="3.20" height="3.20" fill="#f8f5f6"/>
<rect x="357.53" y="401.38" width="4.40" height="4.40" fill="#f0f6e7"/>
<rect x="378.45" y="401.68" width="3.80" height="3.80" fill="#f8f1f5"/>
<rect x="398.93" y="401.53" width="4.10" height="4.10" fill="#f9eff4"/>
<rect x="420.00" y="401.98" width="3.20" height="3.20" fill="#f8f5f6"/>
<rect x="440.62" y="401.98" width="3.20" height="3.20" fill="#f8f5f6"/>
<rect x="459.87" y="400.59" width="5.97" height="5.97" fill="#fcdced"/>
<rect x="294.63" y="410.38" width="6.43" height="6.43" fill="#f9d2e8"/>
<rect x="315.98" y="411.09" width="5.00" height="5.00" fill="#fbe8f2"/>
<rect x="335.30" y="409.79" width="7.60" height="7.60" fill="#9cce64"/>
<rect x="356.23" y="410.09" width="7.00" height="7.00" fill="#c0e492"/>
<rect x="378.75" y="411.99" width="3.20" height="3.20" fill="#f8f5f6"/>
<rect x="399.08" y="411.69" width="3.80" height="3.80" fill="#f8f1f5"/>
<rect x="419.40" y="411.39" width="4.40" height="4.40" fill="#faedf4"/>
<rect x="439.73" y="411.09" width="5.00" height="5.00" fill="#ecf6dd"/>
<rect x="459.78" y="410.53" width="6.13" height="6.13" fill="#fbd9ec"/>
<rect x="294.43" y="420.19" width="6.85" height="6.85" fill="#f5c4e1"/>
<rect x="315.05" y="420.19" width="6.85" height="6.85" fill="#f5c4e1"/>
<rect x="335.02" y="419.53" width="8.16" height="8.16" fill="#77b53c"/>
<rect x="356.83" y="420.71" width="5.80" height="5.80" fill="#e6f5d0"/>
<rect x="378.75" y="422.01" width="3.20" height="3.20" fill="#f8f5f6"/>
<rect x="397.55" y="420.19" width="6.85" height="6.85" fill="#f5c4e1"/>
<rect x="420.00" y="422.01" width="3.20" height="3.20" fill="#f8f5f6"/>
<rect x="439.53" y="420.91" width="5.40" height="5.40" fill="#e9f5d6"/>
<rect x="459.87" y="420.63" width="5.97" height="5.97" fill="#fcdced"/>
<rect x="294.87" y="430.65" width="5.97" height="5.97" fill="#fcdced"/>
<rect x="316.28" y="431.43" width="4.40" height="4.40" fill="#faedf4"/>
<rect x="337.05" y="431.58" width="4.10" height="4.10" fill="#f9eff4"/>
<rect x="357.83" y="431.73" width="3.80" height="3.80" fill="#f3f6ed"/>
<rect x="378.05" y="431.33" width="4.60" height="4.60" fill="#eef6e4"/>
<rect x="399.08" y="431.73" width="3.80" height="3.80" fill="#f3f6ed"/>
<rect x="419.20" y="431.23" width="4.80" height="4.80" fill="#edf6e0"/>
<rect x="439.53" y="430.93" width="5.40" height="5.40" fill="#e9f5d6"/>
<rect x="459.57" y="430.35" width="6.57" height="6.57" fill="#f8cee6"/>
<rect x="295.15" y="440.95" width="5.40" height="5.40" fill="#e9f5d6"/>
<rect x="314.98" y="440.15" width="7.00" height="7.00" fill="#c0e492"/>
<rect x="337.50" y="442.05" width="3.20" height="3.20" fill="#f8f5f6"/>
<rect x="356.74" y="440.66" width="5.97" height="5.97" fill="#fcdced"/>
<rect x="378.75" y="442.05" width="3.20" height="3.20" fill="#f8f5f6"/>
<rect x="399.08" y="441.75" width="3.80" height="3.80" fill="#f8f1f5"/>
<rect x="419.70" y="441.75" width="3.80" height="3.80" fill="#f3f6ed"/>
<rect x="440.62" y="442.05" width="3.20" height="3.20" fill="#f8f5f6"/>
<rect x="461.25" y="442.05" width="3.20" height="3.20" fill="#f8f5f6"/>
<rect x="295.35" y="451.17" width="5.00" height="5.00" fill="#ecf6dd"/>
<rect x="316.88" y="452.07" width="3.20" height="3.20" fill="#f8f5f6"/>
<rect x="337.50" y="452.07" width="3.20" height="3.20" fill="#f8f5f6"/>
<rect x="357.23" y="451.17" width="5.00" height="5.00" fill="#fbe8f2"/>
<rect x="377.20" y="450.52" width="6.30" height="6.30" fill="#fad6ea"/>
<rect x="397.38" y="450.07" width="7.20" height="7.20" fill="#efb1d6"/>
<rect x="418.00" y="450.07" width="7.20" height="7.20" fill="#efb1d6"/>
<rect x="440.33" y="451.77" width="3.80" height="3.80" fill="#f8f1f5"/>
<rect x="459.87" y="450.68" width="5.97" height="5.97" fill="#e2f3ca"/>
<rect x="296.25" y="462.08" width="3.20" height="3.20" fill="#f8f5f6"/>
<rect x="316.58" y="461.78" width="3.80" height="3.80" fill="#f8f1f5"/>
<rect x="336.40" y="460.98" width="5.40" height="5.40" fill="#e9f5d6"/>
<rect x="357.83" y="461.78" width="3.80" height="3.80" fill="#f8f1f5"/>
<rect x="377.85" y="461.18" width="5.00" height="5.00" fill="#fbe8f2"/>
<rect x="397.00" y="459.71" width="7.95" height="7.95" fill="#e07cb2"/>
<rect x="418.25" y="460.33" width="6.70" height="6.70" fill="#f7cbe4"/>
<rect x="440.33" y="461.78" width="3.80" height="3.80" fill="#f8f1f5"/>
<rect x="460.95" y="461.78" width="3.80" height="3.80" fill="#f3f6ed"/>
<rect x="295.15" y="471.00" width="5.40" height="5.40" fill="#e9f5d6"/>
<rect x="314.68" y="469.90" width="7.60" height="7.60" fill="#9cce64"/>
<rect x="337.20" y="471.80" width="3.80" height="3.80" fill="#f3f6ed"/>
<rect x="357.83" y="471.80" width="3.80" height="3.80" fill="#f8f1f5"/>
<rect x="377.20" y="470.55" width="6.30" height="6.30" fill="#daf0be"/>
<rect x="399.08" y="471.80" width="3.80" height="3.80" fill="#f3f6ed"/>
<rect x="419.30" y="471.40" width="4.60" height="4.60" fill="#eef6e4"/>
<rect x="440.62" y="472.10" width="3.20" height="3.20" fill="#f8f5f6"/>
<rect x="461.25" y="472.10" width="3.20" height="3.20" fill="#f8f5f6"/>
<rect x="295.35" y="481.22" width="5.00" height="5.00" fill="#fbe8f2"/>
<rect x="316.08" y="481.32" width="4.80" height="4.80" fill="#faeaf2"/>
<rect x="334.91" y="479.53" width="8.38" height="8.38" fill="#66a731"/>
<rect x="356.83" y="480.82" width="5.80" height="5.80" fill="#e6f5d0"/>
<rect x="378.75" y="482.12" width="3.20" height="3.20" fill="#f8f5f6"/>
<rect x="398.78" y="481.52" width="4.40" height="4.40" fill="#faedf4"/>
<rect x="420.00" y="482.12" width="3.20" height="3.20" fill="#f8f5f6"/>
<rect x="438.88" y="480.37" width="6.70" height="6.70" fill="#cfebab"/>
<rect x="460.80" y="481.67" width="4.10" height="4.10" fill="#f9eff4"/>
<rect x="295.35" y="491.24" width="5.00" height="5.00" fill="#ecf6dd"/>
<rect x="316.43" y="491.69" width="4.10" height="4.10" fill="#f9eff4"/>
<rect x="336.90" y="491.54" width="4.40" height="4.40" fill="#faedf4"/>
<rect x="357.23" y="491.24" width="5.00" height="5.00" fill="#fbe8f2"/>
<rect x="378.75" y="492.14" width="3.20" height="3.20" fill="#f8f5f6"/>
<rect x="399.38" y="492.14" width="3.20" height="3.20" fill="#f8f5f6"/>
<rect x="418.70" y="490.84" width="5.80" height="5.80" fill="#fde0ef"/>
<rect x="439.08" y="490.59" width="6.30" height="6.30" fill="#fad6ea"/>
<rect x="460.15" y="491.04" width="5.40" height="5.40" fill="#e9f5d6"/>
<rect x="294.78" y="500.69" width="6.13" height="6.13" fill="#def2c4"/>
<rect x="316.58" y="501.86" width="3.80" height="3.80" fill="#f3f6ed"/>
<rect x="335.60" y="500.26" width="7.00" height="7.00" fill="#f3bdde"/>
<rect x="356.74" y="500.77" width="5.97" height="5.97" fill="#fcdced"/>
<rect x="378.30" y="501.71" width="4.10" height="4.10" fill="#f9eff4"/>
<rect x="399.38" y="502.16" width="3.20" height="3.20" fill="#f8f5f6"/>
<rect x="420.00" y="502.16" width="3.20" height="3.20" fill="#f8f5f6"/>
<rect x="439.53" y="501.06" width="5.40" height="5.40" fill="#fce4f0"/>
<rect x="459.70" y="500.61" width="6.30" height="6.30" fill="#daf0be"/>
<rect x="295.95" y="511.87" width="3.80" height="3.80" fill="#f3f6ed"/>
<rect x="316.43" y="511.72" width="4.10" height="4.10" fill="#f9eff4"/>
<rect x="336.40" y="511.07" width="5.40" height="5.40" fill="#e9f5d6"/>
<rect x="357.33" y="511.37" width="4.80" height="4.80" fill="#faeaf2"/>
<rect x="376.55" y="509.97" width="7.60" height="7.60" fill="#e896c4"/>
<rect x="397.48" y="510.27" width="7.00" height="7.00" fill="#f3bdde"/>
<rect x="419.20" y="511.37" width="4.80" height="4.80" fill="#faeaf2"/>
<rect x="440.62" y="512.17" width="3.20" height="3.20" fill="#f8f5f6"/>
<rect x="461.25" y="512.17" width="3.20" height="3.20" fill="#f8f5f6"/>
<rect x="295.95" y="521.89" width="3.80" height="3.80" fill="#f3f6ed"/>
<rect x="315.41" y="520.73" width="6.13" height="6.13" fill="#fbd9ec"/>
<rect x="336.80" y="521.49" width="4.60" height="4.60" fill="#faecf3"/>
<rect x="357.83" y="521.89" width="3.80" height="3.80" fill="#f8f1f5"/>
<rect x="378.45" y="521.89" width="3.80" height="3.80" fill="#f8f1f5"/>
<rect x="399.38" y="522.19" width="3.20" height="3.20" fill="#f8f5f6"/>
<rect x="419.70" y="521.89" width="3.80" height="3.80" fill="#f3f6ed"/>
<rect x="440.62" y="522.19" width="3.20" height="3.20" fill="#f8f5f6"/>
<rect x="460.95" y="521.89" width="3.80" height="3.80" fill="#f8f1f5"/>
<rect x="296.25" y="532.21" width="3.20" height="3.20" fill="#f8f5f6"/>
<rect x="316.08" y="531.41" width="4.80" height="4.80" fill="#edf6e0"/>
<rect x="336.40" y="531.11" width="5.40" height="5.40" fill="#e9f5d6"/>
<rect x="356.30" y="530.38" width="6.85" height="6.85" fill="#c7e89f"/>
<rect x="378.75" y="532.21" width="3.20" height="3.20" fill="#f8f5f6"/>
<rect x="398.28" y="531.11" width="5.40" height="5.40" fill="#e9f5d6"/>
<rect x="418.62" y="530.83" width="5.97" height="5.97" fill="#e2f3ca"/>
<rect x="440.03" y="531.61" width="4.40" height="4.40" fill="#f0f6e7"/>
<rect x="461.25" y="532.21" width="3.20" height="3.20" fill="#f8f5f6"/>
<rect x="294.63" y="540.61" width="6.43" height="6.43" fill="#d7eeb7"/>
<rect x="316.58" y="541.93" width="3.80" height="3.80" fill="#f3f6ed"/>
<rect x="335.53" y="540.26" width="7.13" height="7.13" fill="#f1b6da"/>
<rect x="356.66" y="540.76" width="6.13" height="6.13" fill="#fbd9ec"/>
<rect x="378.45" y="541.93" width="3.80" height="3.80" fill="#f8f1f5"/>
<rect x="399.38" y="542.23" width="3.20" height="3.20" fill="#f8f5f6"/>
<rect x="419.70" y="541.93" width="3.80" height="3.80" fill="#f8f1f5"/>
<rect x="439.53" y="541.13" width="5.40" height="5.40" fill="#fce4f0"/>
<rect x="459.63" y="540.61" width="6.43" height="6.43" fill="#d7eeb7"/>
<rect x="294.63" y="550.63" width="6.43" height="6.43" fill="#d7eeb7"/>
<rect x="316.58" y="551.95" width="3.80" height="3.80" fill="#f3f6ed"/>
<rect x="335.50" y="550.25" width="7.20" height="7.20" fill="#efb1d6"/>
<rect x="356.66" y="550.78" width="6.13" height="6.13" fill="#fbd9ec"/>
<rect x="378.75" y="552.25" width="3.20" height="3.20" fill="#f8f5f6"/>
<rect x="399.38" y="552.25" width="3.20" height="3.20" fill="#f8f5f6"/>
<rect x="420.00" y="552.25" width="3.20" height="3.20" fill="#f8f5f6"/>
<rect x="439.53" y="551.15" width="5.40" height="5.40" fill="#fce4f0"/>
<rect x="459.63" y="550.63" width="6.43" height="6.43" fill="#d7eeb7"/>
<rect x="296.25" y="562.26" width="3.20" height="3.20" fill="#f8f5f6"/>
<rect x="316.88" y="562.26" width="3.20" height="3.20" fill="#f8f5f6"/>
<rect x="336.60" y="561.36" width="5.00" height="5.00" fill="#ecf6dd"/>
<rect x="358.12" y="562.26" width="3.20" height="3.20" fill="#f8f5f6"/>
<rect x="378.45" y="561.96" width="3.80" height="3.80" fill="#f8f1f5"/>
<rect x="398.28" y="561.16" width="5.40" height="5.40" fill="#e9f5d6"/>
<rect x="419.70" y="561.96" width="3.80" height="3.80" fill="#f3f6ed"/>
<rect x="440.33" y="561.96" width="3.80" height="3.80" fill="#f8f1f5"/>
<rect x="460.95" y="561.96" width="3.80" height="3.80" fill="#f8f1f5"/>
<rect x="294.87" y="570.90" width="5.97" height="5.97" fill="#fcdced"/>
<rect x="316.08" y="571.48" width="4.80" height="4.80" fill="#faeaf2"/>
<rect x="335.50" y="570.28" width="7.20" height="7.20" fill="#b3de80"/>
<rect x="356.51" y="570.67" width="6.43" height="6.43" fill="#d7eeb7"/>
<rect x="378.45" y="571.98" width="3.80" height="3.80" fill="#f3f6ed"/>
<rect x="398.28" y="571.18" width="5.40" height="5.40" fill="#fce4f0"/>
<rect x="419.70" y="571.98" width="3.80" height="3.80" fill="#f3f6ed"/>
<rect x="438.73" y="570.38" width="7.00" height="7.00" fill="#c0e492"/>
<rect x="459.78" y="570.82" width="6.13" height="6.13" fill="#fbd9ec"/>
<rect x="294.95" y="581.00" width="5.80" height="5.80" fill="#fde0ef"/>
<rect x="316.08" y="581.50" width="4.80" height="4.80" fill="#faeaf2"/>
<rect x="337.20" y="582.00" width="3.80" height="3.80" fill="#f8f1f5"/>
<rect x="357.03" y="581.20" width="5.40" height="5.40" fill="#e9f5d6"/>
<rect x="378.75" y="582.30" width="3.20" height="3.20" fill="#f8f5f6"/>
<rect x="399.38" y="582.30" width="3.20" height="3.20" fill="#f8f5f6"/>
<rect x="419.20" y="581.50" width="4.80" height="4.80" fill="#edf6e0"/>
<rect x="439.83" y="581.50" width="4.80" height="4.80" fill="#edf6e0"/>
<rect x="460.95" y="582.00" width="3.80" height="3.80" fill="#f8f1f5"/>
<rect x="294.43" y="590.49" width="6.85" height="6.85" fill="#f5c4e1"/>
<rect x="316.88" y="592.32" width="3.20" height="3.20" fill="#f8f5f6"/>
<rect x="336.70" y="591.52" width="4.80" height="4.80" fill="#edf6e0"/>
<rect x="356.30" y="590.49" width="6.85" height="6.85" fill="#c7e89f"/>
<rect x="377.85" y="591.42" width="5.00" height="5.00" fill="#ecf6dd"/>
<rect x="397.55" y="590.49" width="6.85" height="6.85" fill="#c7e89f"/>
<rect x="418.90" y="591.22" width="5.40" height="5.40" fill="#e9f5d6"/>
<rect x="438.88" y="590.57" width="6.70" height="6.70" fill="#cfebab"/>
<rect x="458.37" y="589.44" width="8.96" height="8.96" fill="#da68a6" stroke="#222" stroke-width="0.9"/>
<rect x="294.95" y="601.04" width="5.80" height="5.80" fill="#fde0ef"/>
<rect x="316.18" y="601.64" width="4.60" height="4.60" fill="#eef6e4"/>
<rect x="336.80" y="601.64" width="4.60" height="4.60" fill="#eef6e4"/>
<rect x="356.83" y="601.04" width="5.80" height="5.80" fill="#e6f5d0"/>
<rect x="378.45" y="602.04" width="3.80" height="3.80" fill="#f3f6ed"/>
<rect x="397.25" y="600.22" width="7.44" height="7.44" fill="#a5d56f"/>
<rect x="419.70" y="602.04" width="3.80" height="3.80" fill="#f3f6ed"/>
<rect x="439.53" y="601.24" width="5.40" height="5.40" fill="#e9f5d6"/>
<rect x="459.95" y="601.04" width="5.80" height="5.80" fill="#fde0ef"/>
<rect x="296.25" y="612.35" width="3.20" height="3.20" fill="#f8f5f6"/>
<rect x="316.58" y="612.05" width="3.80" height="3.80" fill="#f3f6ed"/>
<rect x="336.03" y="610.89" width="6.13" height="6.13" fill="#fbd9ec"/>
<rect x="357.53" y="611.75" width="4.40" height="4.40" fill="#faedf4"/>
<rect x="378.75" y="612.35" width="3.20" height="3.20" fill="#f8f5f6"/>
<rect x="399.38" y="612.35" width="3.20" height="3.20" fill="#f8f5f6"/>
<rect x="419.70" y="612.05" width="3.80" height="3.80" fill="#f3f6ed"/>
<rect x="440.33" y="612.05" width="3.80" height="3.80" fill="#f3f6ed"/>
<rect x="461.25" y="612.35" width="3.20" height="3.20" fill="#f8f5f6"/>
<rect x="295.15" y="621.27" width="5.40" height="5.40" fill="#fce4f0"/>
<rect x="316.88" y="622.37" width="3.20" height="3.20" fill="#f8f5f6"/>
<rect x="337.50" y="622.37" width="3.20" height="3.20" fill="#f8f5f6"/>
<rect x="357.83" y="622.07" width="3.80" height="3.80" fill="#f8f1f5"/>
<rect x="378.75" y="622.37" width="3.20" height="3.20" fill="#f8f5f6"/>
<rect x="399.08" y="622.07" width="3.80" height="3.80" fill="#f3f6ed"/>
<rect x="419.70" y="622.07" width="3.80" height="3.80" fill="#f3f6ed"/>
<rect x="439.53" y="621.27" width="5.40" height="5.40" fill="#e9f5d6"/>
<rect x="459.95" y="621.07" width="5.80" height="5.80" fill="#fde0ef"/>
<rect x="296.25" y="632.39" width="3.20" height="3.20" fill="#f8f5f6"/>
<rect x="315.78" y="631.29" width="5.40" height="5.40" fill="#e9f5d6"/>
<rect x="337.50" y="632.39" width="3.20" height="3.20" fill="#f8f5f6"/>
<rect x="357.33" y="631.59" width="4.80" height="4.80" fill="#edf6e0"/>
<rect x="377.45" y="631.09" width="5.80" height="5.80" fill="#e6f5d0"/>
<rect x="399.08" y="632.09" width="3.80" height="3.80" fill="#f3f6ed"/>
<rect x="420.00" y="632.39" width="3.20" height="3.20" fill="#f8f5f6"/>
<rect x="440.62" y="632.39" width="3.20" height="3.20" fill="#f8f5f6"/>
<rect x="461.25" y="632.39" width="3.20" height="3.20" fill="#f8f5f6"/>
<rect x="294.35" y="640.51" width="7.00" height="7.00" fill="#c0e492"/>
<rect x="315.58" y="641.11" width="5.80" height="5.80" fill="#e6f5d0"/>
<rect x="336.03" y="640.94" width="6.13" height="6.13" fill="#fbd9ec"/>
<rect x="356.83" y="641.11" width="5.80" height="5.80" fill="#fde0ef"/>
<rect x="378.75" y="642.41" width="3.20" height="3.20" fill="#f8f5f6"/>
<rect x="399.08" y="642.11" width="3.80" height="3.80" fill="#f8f1f5"/>
<rect x="418.90" y="641.31" width="5.40" height="5.40" fill="#fce4f0"/>
<rect x="438.62" y="640.41" width="7.20" height="7.20" fill="#efb1d6"/>
<rect x="458.41" y="639.56" width="8.89" height="8.89" fill="#7bb83e" stroke="#222" stroke-width="0.9"/>
<rect x="295.95" y="652.13" width="3.80" height="3.80" fill="#f8f1f5"/>
<rect x="316.58" y="652.13" width="3.80" height="3.80" fill="#f3f6ed"/>
<rect x="335.30" y="650.23" width="7.60" height="7.60" fill="#9cce64"/>
<rect x="356.12" y="650.43" width="7.20" height="7.20" fill="#b3de80"/>
<rect x="378.75" y="652.43" width="3.20" height="3.20" fill="#f8f5f6"/>
<rect x="399.38" y="652.43" width="3.20" height="3.20" fill="#f8f5f6"/>
<rect x="418.70" y="651.13" width="5.80" height="5.80" fill="#e6f5d0"/>
<rect x="439.93" y="651.73" width="4.60" height="4.60" fill="#eef6e4"/>
<rect x="459.95" y="651.13" width="5.80" height="5.80" fill="#fde0ef"/>
<rect x="294.43" y="660.62" width="6.85" height="6.85" fill="#c7e89f"/>
<rect x="316.88" y="662.44" width="3.20" height="3.20" fill="#f8f5f6"/>
<rect x="336.90" y="661.84" width="4.40" height="4.40" fill="#faedf4"/>
<rect x="356.23" y="660.54" width="7.00" height="7.00" fill="#f3bdde"/>
<rect x="377.65" y="661.34" width="5.40" height="5.40" fill="#e9f5d6"/>
<rect x="399.08" y="662.14" width="3.80" height="3.80" fill="#f8f1f5"/>
<rect x="418.70" y="661.14" width="5.80" height="5.80" fill="#fde0ef"/>
<rect x="439.08" y="660.89" width="6.30" height="6.30" fill="#fad6ea"/>
<rect x="458.41" y="659.60" width="8.89" height="8.89" fill="#7bb83e" stroke="#222" stroke-width="0.9"/>
<rect x="294.95" y="671.16" width="5.80" height="5.80" fill="#fde0ef"/>
<rect x="316.58" y="672.16" width="3.80" height="3.80" fill="#f8f1f5"/>
<rect x="334.91" y="669.87" width="8.38" height="8.38" fill="#66a731"/>
<rect x="355.54" y="669.87" width="8.38" height="8.38" fill="#66a731"/>
<rect x="378.75" y="672.46" width="3.20" height="3.20" fill="#f8f5f6"/>
<rect x="397.55" y="670.64" width="6.85" height="6.85" fill="#c7e89f"/>
<rect x="418.45" y="670.91" width="6.30" height="6.30" fill="#daf0be"/>
<rect x="440.33" y="672.16" width="3.80" height="3.80" fill="#f3f6ed"/>
<rect x="459.78" y="671.00" width="6.13" height="6.13" fill="#fbd9ec"/>
<rect x="294.78" y="681.01" width="6.13" height="6.13" fill="#fbd9ec"/>
<rect x="315.78" y="681.38" width="5.40" height="5.40" fill="#e9f5d6"/>
<rect x="335.68" y="680.65" width="6.85" height="6.85" fill="#c7e89f"/>
<rect x="356.30" y="680.65" width="6.85" height="6.85" fill="#c7e89f"/>
<rect x="378.45" y="682.18" width="3.80" height="3.80" fill="#f8f1f5"/>
<rect x="398.28" y="681.38" width="5.40" height="5.40" fill="#fce4f0"/>
<rect x="418.70" y="681.18" width="5.80" height="5.80" fill="#e6f5d0"/>
<rect x="438.80" y="680.65" width="6.85" height="6.85" fill="#c7e89f"/>
<rect x="460.15" y="681.38" width="5.40" height="5.40" fill="#fce4f0"/>
<rect x="294.50" y="690.75" width="6.70" height="6.70" fill="#f7cbe4"/>
<rect x="316.88" y="692.50" width="3.20" height="3.20" fill="#f8f5f6"/>
<rect x="337.50" y="692.50" width="3.20" height="3.20" fill="#f8f5f6"/>
<rect x="356.58" y="690.95" width="6.30" height="6.30" fill="#daf0be"/>
<rect x="378.05" y="691.80" width="4.60" height="4.60" fill="#eef6e4"/>
<rect x="397.55" y="690.67" width="6.85" height="6.85" fill="#c7e89f"/>
<rect x="418.10" y="690.60" width="7.00" height="7.00" fill="#c0e492"/>
<rect x="439.73" y="691.60" width="5.00" height="5.00" fill="#ecf6dd"/>
<rect x="460.15" y="691.40" width="5.40" height="5.40" fill="#fce4f0"/>
<rect x="295.55" y="701.82" width="4.60" height="4.60" fill="#eef6e4"/>
<rect x="315.41" y="701.05" width="6.13" height="6.13" fill="#fbd9ec"/>
<rect x="337.50" y="702.52" width="3.20" height="3.20" fill="#f8f5f6"/>
<rect x="356.74" y="701.13" width="5.97" height="5.97" fill="#fcdced"/>
<rect x="377.85" y="701.62" width="5.00" height="5.00" fill="#ecf6dd"/>
<rect x="398.08" y="701.22" width="5.80" height="5.80" fill="#fde0ef"/>
<rect x="418.70" y="701.22" width="5.80" height="5.80" fill="#fde0ef"/>
<rect x="440.33" y="702.22" width="3.80" height="3.80" fill="#f8f1f5"/>
<rect x="459.43" y="700.69" width="6.85" height="6.85" fill="#c7e89f"/>
<rect x="486.69" y="329.04" width="8.82" height="8.82" fill="#de77ae" stroke="#222" stroke-width="0.9"/>
<rect x="508.30" y="330.02" width="6.85" height="6.85" fill="#f5c4e1"/>
<rect x="528.75" y="329.85" width="7.20" height="7.20" fill="#b3de80"/>
<rect x="549.55" y="330.02" width="6.85" height="6.85" fill="#c7e89f"/>
<rect x="569.88" y="329.73" width="7.44" height="7.44" fill="#a5d56f"/>
<rect x="591.08" y="330.30" width="6.30" height="6.30" fill="#daf0be"/>
<rect x="611.13" y="329.73" width="7.44" height="7.44" fill="#a5d56f"/>
<rect x="631.88" y="329.85" width="7.20" height="7.20" fill="#b3de80"/>
<rect x="651.69" y="329.04" width="8.82" height="8.82" fill="#de77ae" stroke="#222" stroke-width="0.9"/>
<rect x="488.40" y="340.77" width="5.40" height="5.40" fill="#fce4f0"/>
<rect x="509.23" y="340.97" width="5.00" height="5.00" fill="#fbe8f2"/>
<rect x="529.20" y="340.32" width="6.30" height="6.30" fill="#daf0be"/>
<rect x="550.77" y="341.27" width="4.40" height="4.40" fill="#f0f6e7"/>
<rect x="571.30" y="341.17" width="4.60" height="4.60" fill="#eef6e4"/>
<rect x="590.43" y="339.67" width="7.60" height="7.60" fill="#9cce64"/>
<rect x="613.25" y="341.87" width="3.20" height="3.20" fill="#f8f5f6"/>
<rect x="632.77" y="340.77" width="5.40" height="5.40" fill="#e9f5d6"/>
<rect x="653.90" y="341.27" width="4.40" height="4.40" fill="#faedf4"/>
<rect x="487.95" y="350.34" width="6.30" height="6.30" fill="#daf0be"/>
<rect x="508.44" y="350.20" width="6.57" height="6.57" fill="#d3edb1"/>
<rect x="529.85" y="350.99" width="5.00" height="5.00" fill="#ecf6dd"/>
<rect x="550.27" y="350.79" width="5.40" height="5.40" fill="#e9f5d6"/>
<rect x="570.70" y="350.59" width="5.80" height="5.80" fill="#fde0ef"/>
<rect x="592.62" y="351.89" width="3.20" height="3.20" fill="#f8f5f6"/>
<rect x="613.25" y="351.89" width="3.20" height="3.20" fill="#f8f5f6"/>
<rect x="633.27" y="351.29" width="4.40" height="4.40" fill="#faedf4"/>
<rect x="654.20" y="351.59" width="3.80" height="3.80" fill="#f3f6ed"/>
<rect x="487.95" y="360.35" width="6.30" height="6.30" fill="#daf0be"/>
<rect x="508.58" y="360.35" width="6.30" height="6.30" fill="#daf0be"/>
<rect x="530.05" y="361.20" width="4.60" height="4.60" fill="#eef6e4"/>
<rect x="550.68" y="361.20" width="4.60" height="4.60" fill="#eef6e4"/>
<rect x="570.62" y="360.52" width="5.97" height="5.97" fill="#fcdced"/>
<rect x="592.33" y="361.60" width="3.80" height="3.80" fill="#f8f1f5"/>
<rect x="613.25" y="361.90" width="3.20" height="3.20" fill="#f8f5f6"/>
<rect x="633.08" y="361.10" width="4.80" height="4.80" fill="#faeaf2"/>
<rect x="653.90" y="361.30" width="4.40" height="4.40" fill="#f0f6e7"/>
<rect x="487.95" y="370.37" width="6.30" height="6.30" fill="#daf0be"/>
<rect x="508.58" y="370.37" width="6.30" height="6.30" fill="#daf0be"/>
<rect x="530.05" y="371.22" width="4.60" height="4.60" fill="#eef6e4"/>
<rect x="550.68" y="371.22" width="4.60" height="4.60" fill="#eef6e4"/>
<rect x="570.62" y="370.54" width="5.97" height="5.97" fill="#fcdced"/>
<rect x="592.33" y="371.62" width="3.80" height="3.80" fill="#f8f1f5"/>
<rect x="613.25" y="371.92" width="3.20" height="3.20" fill="#f8f5f6"/>
<rect x="633.08" y="371.12" width="4.80" height="4.80" fill="#faeaf2"/>
<rect x="653.90" y="371.32" width="4.40" height="4.40" fill="#f0f6e7"/>
<rect x="487.95" y="380.39" width="6.30" height="6.30" fill="#daf0be"/>
<rect x="508.58" y="380.39" width="6.30" height="6.30" fill="#daf0be"/>
<rect x="530.05" y="381.24" width="4.60" height="4.60" fill="#eef6e4"/>
<rect x="550.68" y="381.24" width="4.60" height="4.60" fill="#eef6e4"/>
<rect x="570.62" y="380.56" width="5.97" height="5.97" fill="#fcdced"/>
<rect x="592.33" y="381.64" width="3.80" height="3.80" fill="#f8f1f5"/>
<rect x="613.25" y="381.94" width="3.20" height="3.20" fill="#f8f5f6"/>
<rect x="633.08" y="381.14" width="4.80" height="4.80" fill="#faeaf2"/>
<rect x="653.90" y="381.34" width="4.40" height="4.40" fill="#f0f6e7"/>
<rect x="488.12" y="390.57" width="5.97" height="5.97" fill="#e2f3ca"/>
<rect x="508.74" y="390.57" width="5.97" height="5.97" fill="#e2f3ca"/>
<rect x="530.30" y="391.51" width="4.10" height="4.10" fill="#f1f6ea"/>
<rect x="550.93" y="391.51" width="4.10" height="4.10" fill="#f1f6ea"/>
<rect x="570.70" y="390.66" width="5.80" height="5.80" fill="#fde0ef"/>
<rect x="592.33" y="391.66" width="3.80" height="3.80" fill="#f8f1f5"/>
<rect x="613.25" y="391.96" width="3.20" height="3.20" fill="#f8f5f6"/>
<rect x="633.08" y="391.16" width="4.80" height="4.80" fill="#faeaf2"/>
<rect x="654.05" y="391.51" width="4.10" height="4.10" fill="#f1f6ea"/>
<rect x="488.20" y="400.68" width="5.80" height="5.80" fill="#fde0ef"/>
<rect x="509.53" y="401.38" width="4.40" height="4.40" fill="#faedf4"/>
<rect x="528.55" y="399.78" width="7.60" height="7.60" fill="#9cce64"/>
<rect x="549.99" y="400.59" width="5.97" height="5.97" fill="#e2f3ca"/>
<rect x="570.18" y="400.15" width="6.85" height="6.85" fill="#c7e89f"/>
<rect x="590.80" y="400.15" width="6.85" height="6.85" fill="#c7e89f"/>
<rect x="611.35" y="400.08" width="7.00" height="7.00" fill="#c0e492"/>
<rect x="632.05" y="400.15" width="6.85" height="6.85" fill="#c7e89f"/>
<rect x="651.69" y="399.17" width="8.82" height="8.82" fill="#de77ae" stroke="#222" stroke-width="0.9"/>
<rect x="488.20" y="410.69" width="5.80" height="5.80" fill="#fde0ef"/>
<rect x="509.23" y="411.09" width="5.00" height="5.00" fill="#fbe8f2"/>
<rect x="528.93" y="410.17" width="6.85" height="6.85" fill="#c7e89f"/>
<rect x="550.48" y="411.09" width="5.00" height="5.00" fill="#ecf6dd"/>
<rect x="570.45" y="410.44" width="6.30" height="6.30" fill="#daf0be"/>
<rect x="592.33" y="411.69" width="3.80" height="3.80" fill="#f3f6ed"/>
<rect x="612.95" y="411.69" width="3.80" height="3.80" fill="#f3f6ed"/>
<rect x="632.12" y="410.24" width="6.70" height="6.70" fill="#cfebab"/>
<rect x="653.40" y="410.89" width="5.40" height="5.40" fill="#fce4f0"/>
<rect x="486.45" y="418.96" width="9.30" height="9.30" fill="#cb3289" stroke="#222" stroke-width="0.9"/>
<rect x="508.38" y="420.26" width="6.70" height="6.70" fill="#f7cbe4"/>
<rect x="528.63" y="419.89" width="7.44" height="7.44" fill="#a5d56f"/>
<rect x="551.08" y="421.71" width="3.80" height="3.80" fill="#f3f6ed"/>
<rect x="569.80" y="419.81" width="7.60" height="7.60" fill="#9cce64"/>
<rect x="590.36" y="419.74" width="7.74" height="7.74" fill="#92c858"/>
<rect x="611.70" y="420.46" width="6.30" height="6.30" fill="#daf0be"/>
<rect x="631.75" y="419.89" width="7.44" height="7.44" fill="#a5d56f"/>
<rect x="652.95" y="420.46" width="6.30" height="6.30" fill="#fad6ea"/>
<rect x="487.28" y="429.81" width="7.65" height="7.65" fill="#f5c4e1" stroke="#222" stroke-width="0.9"/>
<rect x="508.83" y="430.73" width="5.80" height="5.80" fill="#fde0ef"/>
<rect x="530.45" y="431.73" width="3.80" height="3.80" fill="#f3f6ed"/>
<rect x="551.38" y="432.03" width="3.20" height="3.20" fill="#f8f5f6"/>
<rect x="570.90" y="430.93" width="5.40" height="5.40" fill="#e9f5d6"/>
<rect x="590.80" y="430.20" width="6.85" height="6.85" fill="#c7e89f"/>
<rect x="612.95" y="431.73" width="3.80" height="3.80" fill="#f3f6ed"/>
<rect x="633.58" y="431.73" width="3.80" height="3.80" fill="#f3f6ed"/>
<rect x="653.90" y="431.43" width="4.40" height="4.40" fill="#faedf4"/>
<rect x="489.50" y="442.05" width="3.20" height="3.20" fill="#f8f5f6"/>
<rect x="508.83" y="440.75" width="5.80" height="5.80" fill="#fde0ef"/>
<rect x="530.45" y="441.75" width="3.80" height="3.80" fill="#f3f6ed"/>
<rect x="551.08" y="441.75" width="3.80" height="3.80" fill="#f8f1f5"/>
<rect x="571.70" y="441.75" width="3.80" height="3.80" fill="#f3f6ed"/>
<rect x="591.73" y="441.15" width="5.00" height="5.00" fill="#ecf6dd"/>
<rect x="612.95" y="441.75" width="3.80" height="3.80" fill="#f3f6ed"/>
<rect x="633.88" y="442.05" width="3.20" height="3.20" fill="#f8f5f6"/>
<rect x="654.50" y="442.05" width="3.20" height="3.20" fill="#f8f5f6"/>
<rect x="488.90" y="451.47" width="4.40" height="4.40" fill="#faedf4"/>
<rect x="510.12" y="452.07" width="3.20" height="3.20" fill="#f8f5f6"/>
<rect x="530.75" y="452.07" width="3.20" height="3.20" fill="#f8f5f6"/>
<rect x="551.38" y="452.07" width="3.20" height="3.20" fill="#f8f5f6"/>
<rect x="572.00" y="452.07" width="3.20" height="3.20" fill="#f8f5f6"/>
<rect x="592.33" y="451.77" width="3.80" height="3.80" fill="#f3f6ed"/>
<rect x="612.95" y="451.77" width="3.80" height="3.80" fill="#f3f6ed"/>
<rect x="633.88" y="452.07" width="3.20" height="3.20" fill="#f8f5f6"/>
<rect x="654.50" y="452.07" width="3.20" height="3.20" fill="#f8f5f6"/>
<rect x="488.40" y="460.98" width="5.40" height="5.40" fill="#fce4f0"/>
<rect x="509.68" y="461.63" width="4.10" height="4.10" fill="#f9eff4"/>
<rect x="530.45" y="461.78" width="3.80" height="3.80" fill="#f3f6ed"/>
<rect x="550.48" y="461.18" width="5.00" height="5.00" fill="#fbe8f2"/>
<rect x="571.70" y="461.78" width="3.80" height="3.80" fill="#f8f1f5"/>
<rect x="591.73" y="461.18" width="5.00" height="5.00" fill="#ecf6dd"/>
<rect x="612.95" y="461.78" width="3.80" height="3.80" fill="#f3f6ed"/>
<rect x="632.98" y="461.18" width="5.00" height="5.00" fill="#ecf6dd"/>
<rect x="653.20" y="460.78" width="5.80" height="5.80" fill="#fde0ef"/>
<rect x="488.03" y="470.64" width="6.13" height="6.13" fill="#fbd9ec"/>
<rect x="509.83" y="471.80" width="3.80" height="3.80" fill="#f8f1f5"/>
<rect x="528.75" y="470.10" width="7.20" height="7.20" fill="#b3de80"/>
<rect x="550.48" y="471.20" width="5.00" height="5.00" fill="#ecf6dd"/>
<rect x="571.30" y="471.40" width="4.60" height="4.60" fill="#eef6e4"/>
<rect x="590.14" y="469.62" width="8.16" height="8.16" fill="#77b53c"/>
<rect x="612.95" y="471.80" width="3.80" height="3.80" fill="#f3f6ed"/>
<rect x="632.98" y="471.20" width="5.00" height="5.00" fill="#ecf6dd"/>
<rect x="653.03" y="470.64" width="6.13" height="6.13" fill="#fbd9ec"/>
<rect x="488.20" y="480.82" width="5.80" height="5.80" fill="#fde0ef"/>
<rect x="510.12" y="482.12" width="3.20" height="3.20" fill="#f8f5f6"/>
<rect x="528.75" y="480.12" width="7.20" height="7.20" fill="#b3de80"/>
<rect x="551.08" y="481.82" width="3.80" height="3.80" fill="#f3f6ed"/>
<rect x="571.10" y="481.22" width="5.00" height="5.00" fill="#ecf6dd"/>
<rect x="592.62" y="482.12" width="3.20" height="3.20" fill="#f8f5f6"/>
<rect x="612.95" y="481.82" width="3.80" height="3.80" fill="#f3f6ed"/>
<rect x="632.12" y="480.37" width="6.70" height="6.70" fill="#cfebab"/>
<rect x="653.03" y="480.65" width="6.13" height="6.13" fill="#fbd9ec"/>
<rect x="487.95" y="490.59" width="6.30" height="6.30" fill="#daf0be"/>
<rect x="509.03" y="491.04" width="5.40" height="5.40" fill="#e9f5d6"/>
<rect x="530.45" y="491.84" width="3.80" height="3.80" fill="#f8f1f5"/>
<rect x="551.38" y="492.14" width="3.20" height="3.20" fill="#f8f5f6"/>
<rect x="570.45" y="490.59" width="6.30" height="6.30" fill="#fad6ea"/>
<rect x="591.33" y="490.84" width="5.80" height="5.80" fill="#fde0ef"/>
<rect x="613.25" y="492.14" width="3.20" height="3.20" fill="#f8f5f6"/>
<rect x="632.77" y="491.04" width="5.40" height="5.40" fill="#fce4f0"/>
<rect x="654.20" y="491.84" width="3.80" height="3.80" fill="#f3f6ed"/>
<rect x="488.60" y="501.26" width="5.00" height="5.00" fill="#ecf6dd"/>
<rect x="510.12" y="502.16" width="3.20" height="3.20" fill="#f8f5f6"/>
<rect x="529.20" y="500.61" width="6.30" height="6.30" fill="#daf0be"/>
<rect x="549.91" y="500.69" width="6.13" height="6.13" fill="#def2c4"/>
<rect x="570.90" y="501.06" width="5.40" height="5.40" fill="#fce4f0"/>
<rect x="590.73" y="500.26" width="7.00" height="7.00" fill="#f3bdde"/>
<rect x="612.95" y="501.86" width="3.80" height="3.80" fill="#f8f1f5"/>
<rect x="633.88" y="502.16" width="3.20" height="3.20" fill="#f8f5f6"/>
<rect x="654.50" y="502.16" width="3.20" height="3.20" fill="#f8f5f6"/>
<rect x="489.50" y="512.17" width="3.20" height="3.20" fill="#f8f5f6"/>
<rect x="510.12" y="512.17" width="3.20" height="3.20" fill="#f8f5f6"/>
<rect x="530.15" y="511.57" width="4.40" height="4.40" fill="#faedf4"/>
<rect x="550.48" y="511.27" width="5.00" height="5.00" fill="#fbe8f2"/>
<rect x="572.00" y="512.17" width="3.20" height="3.20" fill="#f8f5f6"/>
<rect x="591.73" y="511.27" width="5.00" height="5.00" fill="#fbe8f2"/>
<rect x="612.95" y="511.87" width="3.80" height="3.80" fill="#f3f6ed"/>
<rect x="633.88" y="512.17" width="3.20" height="3.20" fill="#f8f5f6"/>
<rect x="654.50" y="512.17" width="3.20" height="3.20" fill="#f8f5f6"/>
<rect x="487.68" y="520.37" width="6.85" height="6.85" fill="#c7e89f"/>
<rect x="508.23" y="520.29" width="7.00" height="7.00" fill="#c0e492"/>
<rect x="530.75" y="522.19" width="3.20" height="3.20" fill="#f8f5f6"/>
<rect x="551.08" y="521.89" width="3.80" height="3.80" fill="#f3f6ed"/>
<rect x="570.62" y="520.81" width="5.97" height="5.97" fill="#fcdced"/>
<rect x="591.24" y="520.81" width="5.97" height="5.97" fill="#fcdced"/>
<rect x="612.95" y="521.89" width="3.80" height="3.80" fill="#f8f1f5"/>
<rect x="633.27" y="521.59" width="4.40" height="4.40" fill="#faedf4"/>
<rect x="654.50" y="522.19" width="3.20" height="3.20" fill="#f8f5f6"/>
<rect x="489.50" y="532.21" width="3.20" height="3.20" fill="#f8f5f6"/>
<rect x="508.58" y="530.66" width="6.30" height="6.30" fill="#daf0be"/>
<rect x="530.75" y="532.21" width="3.20" height="3.20" fill="#f8f5f6"/>
<rect x="551.38" y="532.21" width="3.20" height="3.20" fill="#f8f5f6"/>
<rect x="571.70" y="531.91" width="3.80" height="3.80" fill="#f8f1f5"/>
<rect x="592.62" y="532.21" width="3.20" height="3.20" fill="#f8f5f6"/>
<rect x="612.15" y="531.11" width="5.40" height="5.40" fill="#fce4f0"/>
<rect x="633.88" y="532.21" width="3.20" height="3.20" fill="#f8f5f6"/>
<rect x="653.80" y="531.51" width="4.60" height="4.60" fill="#eef6e4"/>
<rect x="488.70" y="541.43" width="4.80" height="4.80" fill="#edf6e0"/>
<rect x="509.83" y="541.93" width="3.80" height="3.80" fill="#f3f6ed"/>
<rect x="529.45" y="540.93" width="5.80" height="5.80" fill="#e6f5d0"/>
<rect x="550.08" y="540.93" width="5.80" height="5.80" fill="#e6f5d0"/>
<rect x="570.70" y="540.93" width="5.80" height="5.80" fill="#fde0ef"/>
<rect x="590.80" y="540.40" width="6.85" height="6.85" fill="#f5c4e1"/>
<rect x="612.95" y="541.93" width="3.80" height="3.80" fill="#f8f1f5"/>
<rect x="633.88" y="542.23" width="3.20" height="3.20" fill="#f8f5f6"/>
<rect x="654.50" y="542.23" width="3.20" height="3.20" fill="#f8f5f6"/>
<rect x="488.70" y="551.45" width="4.80" height="4.80" fill="#edf6e0"/>
<rect x="509.83" y="551.95" width="3.80" height="3.80" fill="#f3f6ed"/>
<rect x="529.37" y="550.86" width="5.97" height="5.97" fill="#e2f3ca"/>
<rect x="549.99" y="550.86" width="5.97" height="5.97" fill="#e2f3ca"/>
<rect x="570.70" y="550.95" width="5.80" height="5.80" fill="#fde0ef"/>
<rect x="590.80" y="550.42" width="6.85" height="6.85" fill="#f5c4e1"/>
<rect x="612.95" y="551.95" width="3.80" height="3.80" fill="#f8f1f5"/>
<rect x="633.88" y="552.25" width="3.20" height="3.20" fill="#f8f5f6"/>
<rect x="654.50" y="552.25" width="3.20" height="3.20" fill="#f8f5f6"/>
<rect x="489.20" y="561.96" width="3.80" height="3.80" fill="#f8f1f5"/>
<rect x="509.23" y="561.36" width="5.00" height="5.00" fill="#fbe8f2"/>
<rect x="530.45" y="561.96" width="3.80" height="3.80" fill="#f3f6ed"/>
<rect x="551.08" y="561.96" width="3.80" height="3.80" fill="#f3f6ed"/>
<rect x="570.45" y="560.71" width="6.30" height="6.30" fill="#daf0be"/>
<rect x="592.62" y="562.26" width="3.20" height="3.20" fill="#f8f5f6"/>
<rect x="612.95" y="561.96" width="3.80" height="3.80" fill="#f3f6ed"/>
<rect x="633.88" y="562.26" width="3.20" height="3.20" fill="#f8f5f6"/>
<rect x="654.20" y="561.96" width="3.80" height="3.80" fill="#f8f1f5"/>
<rect x="488.60" y="571.38" width="5.00" height="5.00" fill="#ecf6dd"/>
<rect x="510.12" y="572.28" width="3.20" height="3.20" fill="#f8f5f6"/>
<rect x="529.85" y="571.38" width="5.00" height="5.00" fill="#fbe8f2"/>
<rect x="550.58" y="571.48" width="4.80" height="4.80" fill="#faeaf2"/>
<rect x="570.90" y="571.18" width="5.40" height="5.40" fill="#fce4f0"/>
<rect x="590.43" y="570.08" width="7.60" height="7.60" fill="#e896c4"/>
<rect x="612.15" y="571.18" width="5.40" height="5.40" fill="#fce4f0"/>
<rect x="632.98" y="571.38" width="5.00" height="5.00" fill="#fbe8f2"/>
<rect x="652.95" y="570.73" width="6.30" height="6.30" fill="#daf0be"/>
<rect x="487.75" y="580.55" width="6.70" height="6.70" fill="#cfebab"/>
<rect x="508.58" y="580.75" width="6.30" height="6.30" fill="#daf0be"/>
<rect x="530.75" y="582.30" width="3.20" height="3.20" fill="#f8f5f6"/>
<rect x="551.38" y="582.30" width="3.20" height="3.20" fill="#f8f5f6"/>
<rect x="570.00" y="580.30" width="7.20" height="7.20" fill="#efb1d6"/>
<rect x="591.08" y="580.75" width="6.30" height="6.30" fill="#fad6ea"/>
<rect x="612.15" y="581.20" width="5.40" height="5.40" fill="#fce4f0"/>
<rect x="632.19" y="580.62" width="6.57" height="6.57" fill="#f8cee6"/>
<rect x="653.40" y="581.20" width="5.40" height="5.40" fill="#e9f5d6"/>
<rect x="489.20" y="592.02" width="3.80" height="3.80" fill="#f8f1f5"/>
<rect x="510.12" y="592.32" width="3.20" height="3.20" fill="#f8f5f6"/>
<rect x="529.45" y="591.02" width="5.80" height="5.80" fill="#fde0ef"/>
<rect x="551.08" y="592.02" width="3.80" height="3.80" fill="#f8f1f5"/>
<rect x="571.30" y="591.62" width="4.60" height="4.60" fill="#eef6e4"/>
<rect x="592.33" y="592.02" width="3.80" height="3.80" fill="#f8f1f5"/>
<rect x="612.95" y="592.02" width="3.80" height="3.80" fill="#f3f6ed"/>
<rect x="633.58" y="592.02" width="3.80" height="3.80" fill="#f3f6ed"/>
<rect x="654.50" y="592.32" width="3.20" height="3.20" fill="#f8f5f6"/>
<rect x="487.68" y="600.51" width="6.85" height="6.85" fill="#c7e89f"/>
<rect x="509.23" y="601.44" width="5.00" height="5.00" fill="#ecf6dd"/>
<rect x="528.55" y="600.14" width="7.60" height="7.60" fill="#e896c4"/>
<rect x="549.83" y="600.79" width="6.30" height="6.30" fill="#fad6ea"/>
<rect x="571.70" y="602.04" width="3.80" height="3.80" fill="#f8f1f5"/>
<rect x="590.88" y="600.59" width="6.70" height="6.70" fill="#f7cbe4"/>
<rect x="612.95" y="602.04" width="3.80" height="3.80" fill="#f8f1f5"/>
<rect x="632.58" y="601.04" width="5.80" height="5.80" fill="#fde0ef"/>
<rect x="652.68" y="600.51" width="6.85" height="6.85" fill="#c7e89f"/>
<rect x="488.60" y="611.45" width="5.00" height="5.00" fill="#ecf6dd"/>
<rect x="508.58" y="610.80" width="6.30" height="6.30" fill="#daf0be"/>
<rect x="529.00" y="610.60" width="6.70" height="6.70" fill="#f7cbe4"/>
<rect x="551.08" y="612.05" width="3.80" height="3.80" fill="#f8f1f5"/>
<rect x="572.00" y="612.35" width="3.20" height="3.20" fill="#f8f5f6"/>
<rect x="591.08" y="610.80" width="6.30" height="6.30" fill="#fad6ea"/>
<rect x="613.25" y="612.35" width="3.20" height="3.20" fill="#f8f5f6"/>
<rect x="633.88" y="612.35" width="3.20" height="3.20" fill="#f8f5f6"/>
<rect x="654.50" y="612.35" width="3.20" height="3.20" fill="#f8f5f6"/>
<rect x="489.20" y="622.07" width="3.80" height="3.80" fill="#f3f6ed"/>
<rect x="509.23" y="621.47" width="5.00" height="5.00" fill="#fbe8f2"/>
<rect x="530.45" y="622.07" width="3.80" height="3.80" fill="#f8f1f5"/>
<rect x="549.83" y="620.82" width="6.30" height="6.30" fill="#fad6ea"/>
<rect x="570.70" y="621.07" width="5.80" height="5.80" fill="#e6f5d0"/>
<rect x="592.62" y="622.37" width="3.20" height="3.20" fill="#f8f5f6"/>
<rect x="612.95" y="622.07" width="3.80" height="3.80" fill="#f3f6ed"/>
<rect x="633.88" y="622.37" width="3.20" height="3.20" fill="#f8f5f6"/>
<rect x="653.90" y="621.77" width="4.40" height="4.40" fill="#faedf4"/>
<rect x="488.90" y="631.79" width="4.40" height="4.40" fill="#faedf4"/>
<rect x="509.83" y="632.09" width="3.80" height="3.80" fill="#f8f1f5"/>
<rect x="530.45" y="632.09" width="3.80" height="3.80" fill="#f3f6ed"/>
<rect x="551.38" y="632.39" width="3.20" height="3.20" fill="#f8f5f6"/>
<rect x="570.45" y="630.84" width="6.30" height="6.30" fill="#fad6ea"/>
<rect x="590.25" y="630.01" width="7.95" height="7.95" fill="#e07cb2"/>
<rect x="611.43" y="630.57" width="6.85" height="6.85" fill="#f5c4e1"/>
<rect x="633.88" y="632.39" width="3.20" height="3.20" fill="#f8f5f6"/>
<rect x="653.90" y="631.79" width="4.40" height="4.40" fill="#faedf4"/>
<rect x="489.20" y="642.11" width="3.80" height="3.80" fill="#f3f6ed"/>
<rect x="510.12" y="642.41" width="3.20" height="3.20" fill="#f8f5f6"/>
<rect x="528.75" y="640.41" width="7.20" height="7.20" fill="#efb1d6"/>
<rect x="550.77" y="641.81" width="4.40" height="4.40" fill="#faedf4"/>
<rect x="570.45" y="640.86" width="6.30" height="6.30" fill="#fad6ea"/>
<rect x="592.62" y="642.41" width="3.20" height="3.20" fill="#f8f5f6"/>
<rect x="611.95" y="641.11" width="5.80" height="5.80" fill="#fde0ef"/>
<rect x="632.12" y="640.66" width="6.70" height="6.70" fill="#f7cbe4"/>
<rect x="652.60" y="640.51" width="7.00" height="7.00" fill="#c0e492"/>
<rect x="487.75" y="650.68" width="6.70" height="6.70" fill="#f7cbe4"/>
<rect x="509.23" y="651.53" width="5.00" height="5.00" fill="#fbe8f2"/>
<rect x="528.55" y="650.23" width="7.60" height="7.60" fill="#9cce64"/>
<rect x="549.55" y="650.60" width="6.85" height="6.85" fill="#c7e89f"/>
<rect x="570.25" y="650.68" width="6.70" height="6.70" fill="#cfebab"/>
<rect x="592.33" y="652.13" width="3.80" height="3.80" fill="#f3f6ed"/>
<rect x="611.70" y="650.88" width="6.30" height="6.30" fill="#daf0be"/>
<rect x="631.88" y="650.43" width="7.20" height="7.20" fill="#b3de80"/>
<rect x="651.69" y="649.62" width="8.82" height="8.82" fill="#de77ae" stroke="#222" stroke-width="0.9"/>
<rect x="488.70" y="661.64" width="4.80" height="4.80" fill="#edf6e0"/>
<rect x="509.83" y="662.14" width="3.80" height="3.80" fill="#f8f1f5"/>
<rect x="530.75" y="662.44" width="3.20" height="3.20" fill="#f8f5f6"/>
<rect x="550.48" y="661.54" width="5.00" height="5.00" fill="#ecf6dd"/>
<rect x="571.70" y="662.14" width="3.80" height="3.80" fill="#f8f1f5"/>
<rect x="592.33" y="662.14" width="3.80" height="3.80" fill="#f8f1f5"/>
<rect x="612.95" y="662.14" width="3.80" height="3.80" fill="#f8f1f5"/>
<rect x="632.33" y="660.89" width="6.30" height="6.30" fill="#fad6ea"/>
<rect x="652.82" y="660.76" width="6.57" height="6.57" fill="#d3edb1"/>
<rect x="489.50" y="672.46" width="3.20" height="3.20" fill="#f8f5f6"/>
<rect x="510.12" y="672.46" width="3.20" height="3.20" fill="#f8f5f6"/>
<rect x="530.05" y="671.76" width="4.60" height="4.60" fill="#faecf3"/>
<rect x="549.99" y="671.08" width="5.97" height="5.97" fill="#fcdced"/>
<rect x="572.00" y="672.46" width="3.20" height="3.20" fill="#f8f5f6"/>
<rect x="592.62" y="672.46" width="3.20" height="3.20" fill="#f8f5f6"/>
<rect x="612.95" y="672.16" width="3.80" height="3.80" fill="#f8f1f5"/>
<rect x="633.88" y="672.46" width="3.20" height="3.20" fill="#f8f5f6"/>
<rect x="652.82" y="670.78" width="6.57" height="6.57" fill="#d3edb1"/>
<rect x="489.20" y="682.18" width="3.80" height="3.80" fill="#f3f6ed"/>
<rect x="509.83" y="682.18" width="3.80" height="3.80" fill="#f3f6ed"/>
<rect x="529.45" y="681.18" width="5.80" height="5.80" fill="#fde0ef"/>
<rect x="549.69" y="680.80" width="6.57" height="6.57" fill="#f8cee6"/>
<rect x="571.70" y="682.18" width="3.80" height="3.80" fill="#f3f6ed"/>
<rect x="592.62" y="682.48" width="3.20" height="3.20" fill="#f8f5f6"/>
<rect x="612.95" y="682.18" width="3.80" height="3.80" fill="#f8f1f5"/>
<rect x="633.58" y="682.18" width="3.80" height="3.80" fill="#f8f1f5"/>
<rect x="652.95" y="680.93" width="6.30" height="6.30" fill="#daf0be"/>
<rect x="488.60" y="691.60" width="5.00" height="5.00" fill="#ecf6dd"/>
<rect x="510.12" y="692.50" width="3.20" height="3.20" fill="#f8f5f6"/>
<rect x="530.45" y="692.20" width="3.80" height="3.80" fill="#f3f6ed"/>
<rect x="550.68" y="691.80" width="4.60" height="4.60" fill="#faecf3"/>
<rect x="570.90" y="691.40" width="5.40" height="5.40" fill="#fce4f0"/>
<rect x="592.33" y="692.20" width="3.80" height="3.80" fill="#f8f1f5"/>
<rect x="611.70" y="690.95" width="6.30" height="6.30" fill="#fad6ea"/>
<rect x="632.05" y="690.67" width="6.85" height="6.85" fill="#f5c4e1"/>
<rect x="653.80" y="691.80" width="4.60" height="4.60" fill="#eef6e4"/>
<rect x="489.20" y="702.22" width="3.80" height="3.80" fill="#f8f1f5"/>
<rect x="510.12" y="702.52" width="3.20" height="3.20" fill="#f8f5f6"/>
<rect x="529.37" y="701.13" width="5.97" height="5.97" fill="#e2f3ca"/>
<rect x="549.25" y="700.40" width="7.44" height="7.44" fill="#a5d56f"/>
<rect x="571.70" y="702.22" width="3.80" height="3.80" fill="#f8f1f5"/>
<rect x="591.93" y="701.82" width="4.60" height="4.60" fill="#eef6e4"/>
<rect x="612.35" y="701.62" width="5.00" height="5.00" fill="#ecf6dd"/>
<rect x="633.88" y="702.52" width="3.20" height="3.20" fill="#f8f5f6"/>
<rect x="654.50" y="702.52" width="3.20" height="3.20" fill="#f8f5f6"/>
<text x="380.2" y="321.8" font-size="7.0" fill="#111" stroke="#111" stroke-width="0.1" text-anchor="middle">DRV/r</text>
<text x="573.5" y="321.8" font-size="7.2" fill="#111" stroke="#111" stroke-width="0.1" text-anchor="middle">DTG</text>
<g font-size="5.5" fill="#3a3a3a" text-anchor="end">
<text transform="translate(300.05,716.00) rotate(-40)">CD4+ T cells</text>
<text transform="translate(320.68,716.00) rotate(-40)">CD8+ T cells</text>
<text transform="translate(341.30,716.00) rotate(-40)">CD4+ CD38+ HLA–DR+ T cells</text>
<text transform="translate(361.93,716.00) rotate(-40)">CD8+ CD38+ HLA–DR+ T cells</text>
<text transform="translate(382.55,716.00) rotate(-40)">CRP</text>
<text transform="translate(403.18,716.00) rotate(-40)">IL–6</text>
<text transform="translate(423.80,716.00) rotate(-40)">TNF–α</text>
<text transform="translate(444.43,716.00) rotate(-40)">sCD14</text>
<text transform="translate(465.05,716.00) rotate(-40)">BMI</text>
<text transform="translate(493.30,716.00) rotate(-40)">CD4+ T cells</text>
<text transform="translate(513.93,716.00) rotate(-40)">CD8+ T cells</text>
<text transform="translate(534.55,716.00) rotate(-40)">CD4+ CD38+ HLA–DR+ T cells</text>
<text transform="translate(555.18,716.00) rotate(-40)">CD8+ CD38+ HLA–DR+ T cells</text>
<text transform="translate(575.80,716.00) rotate(-40)">CRP</text>
<text transform="translate(596.43,716.00) rotate(-40)">IL–6</text>
<text transform="translate(617.05,716.00) rotate(-40)">TNF–α</text>
<text transform="translate(637.68,716.00) rotate(-40)">sCD14</text>
<text transform="translate(658.30,716.00) rotate(-40)">BMI</text>
</g>
<text x="6.7" y="613.6" font-size="6.54" fill="#000" stroke="#000" stroke-width="0.05">Repeated Measures Correlation</text>
<rect x="25.9" y="620" width="55" height="11" fill="url(#piyg)"/>
<text x="26.30" y="638.8" font-size="5.3" fill="#333" text-anchor="middle">−0.6</text>
<text x="53.40" y="638.8" font-size="5.3" fill="#333" text-anchor="middle">0.0</text>
<text x="79.30" y="638.8" font-size="5.3" fill="#333" text-anchor="middle">0.6</text>
<text x="53.1" y="656.2" font-size="6.73" fill="#1a1a1a" text-anchor="middle">q &lt; 0.05</text>
<rect x="36.4" y="663.9" width="3.8" height="3.8" rx="0.8" fill="#8a8a8a" stroke="#333" stroke-width="0.5"/>
<text x="41.7" y="667.9" font-size="5.6" fill="#1a1a1a">&lt; 0.05</text>
<rect x="59.3" y="664.2" width="3.0" height="3.2" fill="#e6e6e6"/>
<text x="63.8" y="667.9" font-size="5.6" fill="#1a1a1a">ns</text>
</svg></body></html>
